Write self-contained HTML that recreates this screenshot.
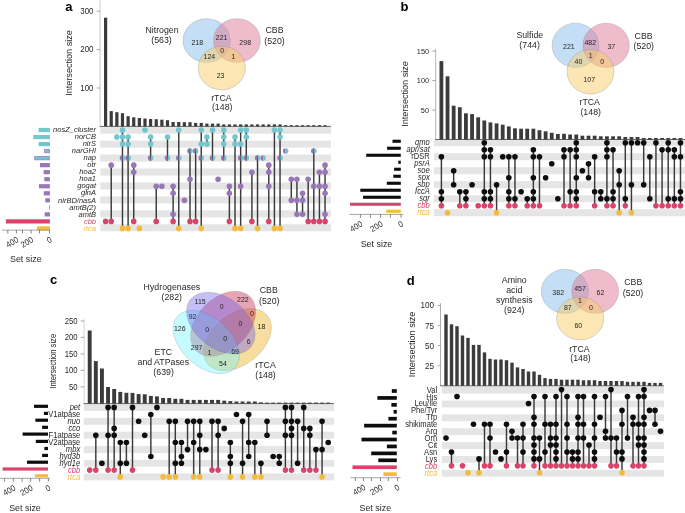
<!DOCTYPE html><html><head><meta charset="utf-8"><style>html,body{margin:0;padding:0;background:#fff;}svg{display:block;will-change:transform;}</style></head><body><svg width="685" height="513" viewBox="0 0 685 513" font-family='"Liberation Sans", sans-serif'>
<rect width="685" height="513" fill="#ffffff"/>
<rect x="100.30" y="126.68" width="230.70" height="7.03" fill="#e5e5e5"/>
<rect x="100.30" y="140.62" width="230.70" height="7.03" fill="#e5e5e5"/>
<rect x="100.30" y="154.56" width="230.70" height="7.03" fill="#e5e5e5"/>
<rect x="100.30" y="168.50" width="230.70" height="7.03" fill="#e5e5e5"/>
<rect x="100.30" y="182.44" width="230.70" height="7.03" fill="#e5e5e5"/>
<rect x="100.30" y="196.38" width="230.70" height="7.03" fill="#e5e5e5"/>
<rect x="100.30" y="210.32" width="230.70" height="7.03" fill="#e5e5e5"/>
<rect x="100.30" y="224.26" width="230.70" height="7.03" fill="#e5e5e5"/>
<rect x="104.00" y="17.70" width="3.20" height="108.70" fill="#3b3b3b"/>
<rect x="109.63" y="111.10" width="3.20" height="15.30" fill="#3b3b3b"/>
<rect x="115.25" y="112.20" width="3.20" height="14.20" fill="#3b3b3b"/>
<rect x="120.88" y="113.20" width="3.20" height="13.20" fill="#3b3b3b"/>
<rect x="126.51" y="116.20" width="3.20" height="10.20" fill="#3b3b3b"/>
<rect x="132.13" y="117.30" width="3.20" height="9.10" fill="#3b3b3b"/>
<rect x="137.76" y="118.00" width="3.20" height="8.40" fill="#3b3b3b"/>
<rect x="143.39" y="118.50" width="3.20" height="7.90" fill="#3b3b3b"/>
<rect x="149.02" y="119.00" width="3.20" height="7.40" fill="#3b3b3b"/>
<rect x="154.64" y="119.20" width="3.20" height="7.20" fill="#3b3b3b"/>
<rect x="160.27" y="119.70" width="3.20" height="6.70" fill="#3b3b3b"/>
<rect x="165.90" y="120.20" width="3.20" height="6.20" fill="#3b3b3b"/>
<rect x="171.52" y="122.00" width="3.20" height="4.40" fill="#3b3b3b"/>
<rect x="177.15" y="122.00" width="3.20" height="4.40" fill="#3b3b3b"/>
<rect x="182.78" y="122.20" width="3.20" height="4.20" fill="#3b3b3b"/>
<rect x="188.41" y="122.20" width="3.20" height="4.20" fill="#3b3b3b"/>
<rect x="194.03" y="122.90" width="3.20" height="3.50" fill="#3b3b3b"/>
<rect x="199.66" y="122.90" width="3.20" height="3.50" fill="#3b3b3b"/>
<rect x="205.29" y="123.60" width="3.20" height="2.80" fill="#3b3b3b"/>
<rect x="210.91" y="123.60" width="3.20" height="2.80" fill="#3b3b3b"/>
<rect x="216.54" y="123.60" width="3.20" height="2.80" fill="#3b3b3b"/>
<rect x="222.17" y="124.40" width="3.20" height="2.00" fill="#3b3b3b"/>
<rect x="227.79" y="124.40" width="3.20" height="2.00" fill="#3b3b3b"/>
<rect x="233.42" y="124.40" width="3.20" height="2.00" fill="#3b3b3b"/>
<rect x="239.05" y="124.40" width="3.20" height="2.00" fill="#3b3b3b"/>
<rect x="244.67" y="124.40" width="3.20" height="2.00" fill="#3b3b3b"/>
<rect x="250.30" y="124.40" width="3.20" height="2.00" fill="#3b3b3b"/>
<rect x="255.93" y="124.40" width="3.20" height="2.00" fill="#3b3b3b"/>
<rect x="261.56" y="124.40" width="3.20" height="2.00" fill="#3b3b3b"/>
<rect x="267.18" y="124.40" width="3.20" height="2.00" fill="#3b3b3b"/>
<rect x="272.81" y="124.40" width="3.20" height="2.00" fill="#3b3b3b"/>
<rect x="278.44" y="124.40" width="3.20" height="2.00" fill="#3b3b3b"/>
<rect x="284.06" y="125.20" width="3.20" height="1.20" fill="#3b3b3b"/>
<rect x="289.69" y="125.20" width="3.20" height="1.20" fill="#3b3b3b"/>
<rect x="295.32" y="125.20" width="3.20" height="1.20" fill="#3b3b3b"/>
<rect x="300.94" y="125.20" width="3.20" height="1.20" fill="#3b3b3b"/>
<rect x="306.57" y="125.20" width="3.20" height="1.20" fill="#3b3b3b"/>
<rect x="312.20" y="125.20" width="3.20" height="1.20" fill="#3b3b3b"/>
<rect x="317.83" y="125.20" width="3.20" height="1.20" fill="#3b3b3b"/>
<rect x="323.45" y="125.20" width="3.20" height="1.20" fill="#3b3b3b"/>
<line x1="100.10" y1="0.50" x2="100.10" y2="126.40" stroke="#b4b4b4" stroke-width="0.7"/>
<line x1="99.75" y1="126.40" x2="331.00" y2="126.40" stroke="#3a3a3a" stroke-width="0.75"/>
<line x1="96.70" y1="11.20" x2="100.10" y2="11.20" stroke="#808080" stroke-width="0.7"/>
<text transform="translate(93.50 14.04) scale(1 1.08)" font-size="7.9" text-anchor="end" fill="#231f20">300</text>
<line x1="96.70" y1="49.60" x2="100.10" y2="49.60" stroke="#808080" stroke-width="0.7"/>
<text transform="translate(93.50 52.44) scale(1 1.08)" font-size="7.9" text-anchor="end" fill="#231f20">200</text>
<line x1="96.70" y1="88.00" x2="100.10" y2="88.00" stroke="#808080" stroke-width="0.7"/>
<text transform="translate(93.50 90.84) scale(1 1.08)" font-size="7.9" text-anchor="end" fill="#231f20">100</text>
<text transform="translate(71.60 63.00) rotate(-90) scale(1 1.08)" font-size="9.1" text-anchor="middle" fill="#231f20">Intersection size</text>
<circle cx="105.60" cy="221.39" r="2.8" fill="#d8446c"/>
<line x1="111.23" y1="165.15" x2="111.23" y2="221.39" stroke="#3a3a3a" stroke-width="1.45"/>
<circle cx="111.23" cy="165.15" r="2.8" fill="#9877b6"/>
<circle cx="111.23" cy="221.39" r="2.8" fill="#d8446c"/>
<circle cx="116.85" cy="137.03" r="2.8" fill="#72c6ce"/>
<line x1="122.48" y1="130.00" x2="122.48" y2="228.42" stroke="#3a3a3a" stroke-width="1.45"/>
<circle cx="122.48" cy="130.00" r="2.8" fill="#72c6ce"/>
<circle cx="122.48" cy="137.03" r="2.8" fill="#72c6ce"/>
<circle cx="122.48" cy="144.06" r="2.8" fill="#72c6ce"/>
<path d="M122.48,155.32 A2.8,2.8 0 0 0 122.48,160.92 Z" fill="#9877b6"/>
<path d="M122.48,155.32 A2.8,2.8 0 0 1 122.48,160.92 Z" fill="#72c6ce"/>
<line x1="122.48" y1="155.32" x2="122.48" y2="160.92" stroke="#3a3a3a" stroke-width="0.6"/>
<circle cx="122.48" cy="228.42" r="2.8" fill="#f3bb3b"/>
<line x1="128.11" y1="137.03" x2="128.11" y2="228.42" stroke="#3a3a3a" stroke-width="1.45"/>
<circle cx="128.11" cy="137.03" r="2.8" fill="#72c6ce"/>
<circle cx="128.11" cy="144.06" r="2.8" fill="#72c6ce"/>
<path d="M128.11,155.32 A2.8,2.8 0 0 0 128.11,160.92 Z" fill="#9877b6"/>
<path d="M128.11,155.32 A2.8,2.8 0 0 1 128.11,160.92 Z" fill="#72c6ce"/>
<line x1="128.11" y1="155.32" x2="128.11" y2="160.92" stroke="#3a3a3a" stroke-width="0.6"/>
<circle cx="128.11" cy="228.42" r="2.8" fill="#f3bb3b"/>
<line x1="133.73" y1="165.15" x2="133.73" y2="221.39" stroke="#3a3a3a" stroke-width="1.45"/>
<circle cx="133.73" cy="165.15" r="2.8" fill="#9877b6"/>
<circle cx="133.73" cy="172.18" r="2.8" fill="#9877b6"/>
<circle cx="133.73" cy="221.39" r="2.8" fill="#d8446c"/>
<circle cx="139.36" cy="228.42" r="2.8" fill="#f3bb3b"/>
<circle cx="144.99" cy="130.00" r="2.8" fill="#72c6ce"/>
<line x1="150.62" y1="137.03" x2="150.62" y2="158.12" stroke="#3a3a3a" stroke-width="1.45"/>
<circle cx="150.62" cy="137.03" r="2.8" fill="#72c6ce"/>
<circle cx="150.62" cy="144.06" r="2.8" fill="#72c6ce"/>
<path d="M150.62,155.32 A2.8,2.8 0 0 0 150.62,160.92 Z" fill="#9877b6"/>
<path d="M150.62,155.32 A2.8,2.8 0 0 1 150.62,160.92 Z" fill="#72c6ce"/>
<line x1="150.62" y1="155.32" x2="150.62" y2="160.92" stroke="#3a3a3a" stroke-width="0.6"/>
<line x1="156.24" y1="186.24" x2="156.24" y2="221.39" stroke="#3a3a3a" stroke-width="1.45"/>
<circle cx="156.24" cy="186.24" r="2.8" fill="#9877b6"/>
<circle cx="156.24" cy="221.39" r="2.8" fill="#d8446c"/>
<circle cx="161.87" cy="186.24" r="2.8" fill="#9877b6"/>
<line x1="167.50" y1="137.03" x2="167.50" y2="158.12" stroke="#3a3a3a" stroke-width="1.45"/>
<circle cx="167.50" cy="137.03" r="2.8" fill="#72c6ce"/>
<path d="M167.50,155.32 A2.8,2.8 0 0 0 167.50,160.92 Z" fill="#9877b6"/>
<path d="M167.50,155.32 A2.8,2.8 0 0 1 167.50,160.92 Z" fill="#72c6ce"/>
<line x1="167.50" y1="155.32" x2="167.50" y2="160.92" stroke="#3a3a3a" stroke-width="0.6"/>
<line x1="173.12" y1="186.24" x2="173.12" y2="221.39" stroke="#3a3a3a" stroke-width="1.45"/>
<circle cx="173.12" cy="186.24" r="2.8" fill="#9877b6"/>
<circle cx="173.12" cy="193.27" r="2.8" fill="#9877b6"/>
<circle cx="173.12" cy="214.36" r="2.8" fill="#9877b6"/>
<circle cx="173.12" cy="221.39" r="2.8" fill="#d8446c"/>
<line x1="178.75" y1="130.00" x2="178.75" y2="228.42" stroke="#3a3a3a" stroke-width="1.45"/>
<circle cx="178.75" cy="130.00" r="2.8" fill="#72c6ce"/>
<path d="M178.75,155.32 A2.8,2.8 0 0 0 178.75,160.92 Z" fill="#9877b6"/>
<path d="M178.75,155.32 A2.8,2.8 0 0 1 178.75,160.92 Z" fill="#72c6ce"/>
<line x1="178.75" y1="155.32" x2="178.75" y2="160.92" stroke="#3a3a3a" stroke-width="0.6"/>
<circle cx="178.75" cy="228.42" r="2.8" fill="#f3bb3b"/>
<circle cx="184.38" cy="200.30" r="2.8" fill="#9877b6"/>
<line x1="190.00" y1="151.09" x2="190.00" y2="221.39" stroke="#3a3a3a" stroke-width="1.45"/>
<path d="M190.00,148.29 A2.8,2.8 0 0 0 190.00,153.89 Z" fill="#9877b6"/>
<path d="M190.00,148.29 A2.8,2.8 0 0 1 190.00,153.89 Z" fill="#72c6ce"/>
<line x1="190.00" y1="148.29" x2="190.00" y2="153.89" stroke="#3a3a3a" stroke-width="0.6"/>
<circle cx="190.00" cy="179.21" r="2.8" fill="#9877b6"/>
<circle cx="190.00" cy="221.39" r="2.8" fill="#d8446c"/>
<line x1="195.63" y1="151.09" x2="195.63" y2="221.39" stroke="#3a3a3a" stroke-width="1.45"/>
<path d="M195.63,148.29 A2.8,2.8 0 0 0 195.63,153.89 Z" fill="#9877b6"/>
<path d="M195.63,148.29 A2.8,2.8 0 0 1 195.63,153.89 Z" fill="#72c6ce"/>
<line x1="195.63" y1="148.29" x2="195.63" y2="153.89" stroke="#3a3a3a" stroke-width="0.6"/>
<circle cx="195.63" cy="221.39" r="2.8" fill="#d8446c"/>
<line x1="201.26" y1="130.00" x2="201.26" y2="228.42" stroke="#3a3a3a" stroke-width="1.45"/>
<circle cx="201.26" cy="130.00" r="2.8" fill="#72c6ce"/>
<circle cx="201.26" cy="144.06" r="2.8" fill="#72c6ce"/>
<path d="M201.26,155.32 A2.8,2.8 0 0 0 201.26,160.92 Z" fill="#9877b6"/>
<path d="M201.26,155.32 A2.8,2.8 0 0 1 201.26,160.92 Z" fill="#72c6ce"/>
<line x1="201.26" y1="155.32" x2="201.26" y2="160.92" stroke="#3a3a3a" stroke-width="0.6"/>
<circle cx="201.26" cy="228.42" r="2.8" fill="#f3bb3b"/>
<line x1="206.89" y1="137.03" x2="206.89" y2="144.06" stroke="#3a3a3a" stroke-width="1.45"/>
<circle cx="206.89" cy="137.03" r="2.8" fill="#72c6ce"/>
<circle cx="206.89" cy="144.06" r="2.8" fill="#72c6ce"/>
<line x1="212.51" y1="130.00" x2="212.51" y2="158.12" stroke="#3a3a3a" stroke-width="1.45"/>
<circle cx="212.51" cy="130.00" r="2.8" fill="#72c6ce"/>
<path d="M212.51,155.32 A2.8,2.8 0 0 0 212.51,160.92 Z" fill="#9877b6"/>
<path d="M212.51,155.32 A2.8,2.8 0 0 1 212.51,160.92 Z" fill="#72c6ce"/>
<line x1="212.51" y1="155.32" x2="212.51" y2="160.92" stroke="#3a3a3a" stroke-width="0.6"/>
<circle cx="218.14" cy="179.21" r="2.8" fill="#9877b6"/>
<line x1="223.77" y1="130.00" x2="223.77" y2="158.12" stroke="#3a3a3a" stroke-width="1.45"/>
<circle cx="223.77" cy="130.00" r="2.8" fill="#72c6ce"/>
<circle cx="223.77" cy="137.03" r="2.8" fill="#72c6ce"/>
<circle cx="223.77" cy="144.06" r="2.8" fill="#72c6ce"/>
<path d="M223.77,155.32 A2.8,2.8 0 0 0 223.77,160.92 Z" fill="#9877b6"/>
<path d="M223.77,155.32 A2.8,2.8 0 0 1 223.77,160.92 Z" fill="#72c6ce"/>
<line x1="223.77" y1="155.32" x2="223.77" y2="160.92" stroke="#3a3a3a" stroke-width="0.6"/>
<line x1="229.39" y1="186.24" x2="229.39" y2="221.39" stroke="#3a3a3a" stroke-width="1.45"/>
<circle cx="229.39" cy="186.24" r="2.8" fill="#9877b6"/>
<circle cx="229.39" cy="193.27" r="2.8" fill="#9877b6"/>
<circle cx="229.39" cy="221.39" r="2.8" fill="#d8446c"/>
<line x1="235.02" y1="137.03" x2="235.02" y2="228.42" stroke="#3a3a3a" stroke-width="1.45"/>
<circle cx="235.02" cy="137.03" r="2.8" fill="#72c6ce"/>
<circle cx="235.02" cy="144.06" r="2.8" fill="#72c6ce"/>
<circle cx="235.02" cy="228.42" r="2.8" fill="#f3bb3b"/>
<line x1="240.65" y1="130.00" x2="240.65" y2="228.42" stroke="#3a3a3a" stroke-width="1.45"/>
<circle cx="240.65" cy="130.00" r="2.8" fill="#72c6ce"/>
<circle cx="240.65" cy="144.06" r="2.8" fill="#72c6ce"/>
<path d="M240.65,155.32 A2.8,2.8 0 0 0 240.65,160.92 Z" fill="#9877b6"/>
<path d="M240.65,155.32 A2.8,2.8 0 0 1 240.65,160.92 Z" fill="#72c6ce"/>
<line x1="240.65" y1="155.32" x2="240.65" y2="160.92" stroke="#3a3a3a" stroke-width="0.6"/>
<circle cx="240.65" cy="186.24" r="2.8" fill="#9877b6"/>
<circle cx="240.65" cy="228.42" r="2.8" fill="#f3bb3b"/>
<line x1="246.27" y1="130.00" x2="246.27" y2="158.12" stroke="#3a3a3a" stroke-width="1.45"/>
<circle cx="246.27" cy="130.00" r="2.8" fill="#72c6ce"/>
<circle cx="246.27" cy="137.03" r="2.8" fill="#72c6ce"/>
<path d="M246.27,155.32 A2.8,2.8 0 0 0 246.27,160.92 Z" fill="#9877b6"/>
<path d="M246.27,155.32 A2.8,2.8 0 0 1 246.27,160.92 Z" fill="#72c6ce"/>
<line x1="246.27" y1="155.32" x2="246.27" y2="160.92" stroke="#3a3a3a" stroke-width="0.6"/>
<line x1="251.90" y1="172.18" x2="251.90" y2="221.39" stroke="#3a3a3a" stroke-width="1.45"/>
<circle cx="251.90" cy="172.18" r="2.8" fill="#9877b6"/>
<circle cx="251.90" cy="221.39" r="2.8" fill="#d8446c"/>
<line x1="257.53" y1="158.12" x2="257.53" y2="228.42" stroke="#3a3a3a" stroke-width="1.45"/>
<path d="M257.53,155.32 A2.8,2.8 0 0 0 257.53,160.92 Z" fill="#9877b6"/>
<path d="M257.53,155.32 A2.8,2.8 0 0 1 257.53,160.92 Z" fill="#72c6ce"/>
<line x1="257.53" y1="155.32" x2="257.53" y2="160.92" stroke="#3a3a3a" stroke-width="0.6"/>
<circle cx="257.53" cy="228.42" r="2.8" fill="#f3bb3b"/>
<path d="M263.16,155.32 A2.8,2.8 0 0 0 263.16,160.92 Z" fill="#9877b6"/>
<path d="M263.16,155.32 A2.8,2.8 0 0 1 263.16,160.92 Z" fill="#72c6ce"/>
<line x1="268.78" y1="165.15" x2="268.78" y2="221.39" stroke="#3a3a3a" stroke-width="1.45"/>
<circle cx="268.78" cy="165.15" r="2.8" fill="#9877b6"/>
<circle cx="268.78" cy="172.18" r="2.8" fill="#9877b6"/>
<circle cx="268.78" cy="186.24" r="2.8" fill="#9877b6"/>
<circle cx="268.78" cy="221.39" r="2.8" fill="#d8446c"/>
<line x1="274.41" y1="130.00" x2="274.41" y2="228.42" stroke="#3a3a3a" stroke-width="1.45"/>
<circle cx="274.41" cy="130.00" r="2.8" fill="#72c6ce"/>
<circle cx="274.41" cy="228.42" r="2.8" fill="#f3bb3b"/>
<line x1="280.04" y1="130.00" x2="280.04" y2="228.42" stroke="#3a3a3a" stroke-width="1.45"/>
<circle cx="280.04" cy="130.00" r="2.8" fill="#72c6ce"/>
<circle cx="280.04" cy="137.03" r="2.8" fill="#72c6ce"/>
<path d="M280.04,155.32 A2.8,2.8 0 0 0 280.04,160.92 Z" fill="#9877b6"/>
<path d="M280.04,155.32 A2.8,2.8 0 0 1 280.04,160.92 Z" fill="#72c6ce"/>
<line x1="280.04" y1="155.32" x2="280.04" y2="160.92" stroke="#3a3a3a" stroke-width="0.6"/>
<circle cx="280.04" cy="228.42" r="2.8" fill="#f3bb3b"/>
<path d="M285.66,148.29 A2.8,2.8 0 0 0 285.66,153.89 Z" fill="#9877b6"/>
<path d="M285.66,148.29 A2.8,2.8 0 0 1 285.66,153.89 Z" fill="#72c6ce"/>
<line x1="291.29" y1="179.21" x2="291.29" y2="200.30" stroke="#3a3a3a" stroke-width="1.45"/>
<circle cx="291.29" cy="179.21" r="2.8" fill="#9877b6"/>
<circle cx="291.29" cy="200.30" r="2.8" fill="#9877b6"/>
<line x1="296.92" y1="179.21" x2="296.92" y2="214.36" stroke="#3a3a3a" stroke-width="1.45"/>
<circle cx="296.92" cy="179.21" r="2.8" fill="#9877b6"/>
<circle cx="296.92" cy="200.30" r="2.8" fill="#9877b6"/>
<circle cx="296.92" cy="214.36" r="2.8" fill="#9877b6"/>
<line x1="302.54" y1="193.27" x2="302.54" y2="214.36" stroke="#3a3a3a" stroke-width="1.45"/>
<circle cx="302.54" cy="193.27" r="2.8" fill="#9877b6"/>
<circle cx="302.54" cy="200.30" r="2.8" fill="#9877b6"/>
<circle cx="302.54" cy="214.36" r="2.8" fill="#9877b6"/>
<line x1="308.17" y1="179.21" x2="308.17" y2="221.39" stroke="#3a3a3a" stroke-width="1.45"/>
<circle cx="308.17" cy="179.21" r="2.8" fill="#9877b6"/>
<circle cx="308.17" cy="221.39" r="2.8" fill="#d8446c"/>
<line x1="313.80" y1="151.09" x2="313.80" y2="221.39" stroke="#3a3a3a" stroke-width="1.45"/>
<path d="M313.80,148.29 A2.8,2.8 0 0 0 313.80,153.89 Z" fill="#9877b6"/>
<path d="M313.80,148.29 A2.8,2.8 0 0 1 313.80,153.89 Z" fill="#72c6ce"/>
<line x1="313.80" y1="148.29" x2="313.80" y2="153.89" stroke="#3a3a3a" stroke-width="0.6"/>
<circle cx="313.80" cy="186.24" r="2.8" fill="#9877b6"/>
<circle cx="313.80" cy="221.39" r="2.8" fill="#d8446c"/>
<line x1="319.43" y1="172.18" x2="319.43" y2="221.39" stroke="#3a3a3a" stroke-width="1.45"/>
<circle cx="319.43" cy="172.18" r="2.8" fill="#9877b6"/>
<circle cx="319.43" cy="186.24" r="2.8" fill="#9877b6"/>
<circle cx="319.43" cy="221.39" r="2.8" fill="#d8446c"/>
<line x1="325.05" y1="165.15" x2="325.05" y2="221.39" stroke="#3a3a3a" stroke-width="1.45"/>
<circle cx="325.05" cy="165.15" r="2.8" fill="#9877b6"/>
<circle cx="325.05" cy="172.18" r="2.8" fill="#9877b6"/>
<circle cx="325.05" cy="186.24" r="2.8" fill="#9877b6"/>
<circle cx="325.05" cy="193.27" r="2.8" fill="#9877b6"/>
<circle cx="325.05" cy="214.36" r="2.8" fill="#9877b6"/>
<circle cx="325.05" cy="221.39" r="2.8" fill="#d8446c"/>
<text transform="translate(96.00 132.20) scale(1 1.08)" font-size="7.5" text-anchor="end" fill="#231f20" font-style="italic">nosZ_cluster</text>
<text transform="translate(96.00 139.23) scale(1 1.08)" font-size="7.5" text-anchor="end" fill="#231f20" font-style="italic">norCB</text>
<text transform="translate(96.00 146.26) scale(1 1.08)" font-size="7.5" text-anchor="end" fill="#231f20" font-style="italic">nirS</text>
<text transform="translate(96.00 153.29) scale(1 1.08)" font-size="7.5" text-anchor="end" fill="#231f20" font-style="italic">narGHI</text>
<text transform="translate(96.00 160.32) scale(1 1.08)" font-size="7.5" text-anchor="end" fill="#231f20" font-style="italic">nap</text>
<text transform="translate(96.00 167.35) scale(1 1.08)" font-size="7.5" text-anchor="end" fill="#231f20" font-style="italic">otr</text>
<text transform="translate(96.00 174.38) scale(1 1.08)" font-size="7.5" text-anchor="end" fill="#231f20" font-style="italic">hoa2</text>
<text transform="translate(96.00 181.41) scale(1 1.08)" font-size="7.5" text-anchor="end" fill="#231f20" font-style="italic">hoa1</text>
<text transform="translate(96.00 188.44) scale(1 1.08)" font-size="7.5" text-anchor="end" fill="#231f20" font-style="italic">gogat</text>
<text transform="translate(96.00 195.47) scale(1 1.08)" font-size="7.5" text-anchor="end" fill="#231f20" font-style="italic">glnA</text>
<text transform="translate(96.00 202.50) scale(1 1.08)" font-size="7.5" text-anchor="end" fill="#231f20" font-style="italic">nirBD/nasA</text>
<text transform="translate(96.00 209.53) scale(1 1.08)" font-size="7.5" text-anchor="end" fill="#231f20" font-style="italic">amtB(2)</text>
<text transform="translate(96.00 216.56) scale(1 1.08)" font-size="7.5" text-anchor="end" fill="#231f20" font-style="italic">amtB</text>
<text transform="translate(96.00 223.59) scale(1 1.08)" font-size="7.5" text-anchor="end" fill="#d8446c" font-style="italic">cbb</text>
<text transform="translate(96.00 230.62) scale(1 1.08)" font-size="7.5" text-anchor="end" fill="#f3bb3b" font-style="italic">rtca</text>
<rect x="38.60" y="127.90" width="11.30" height="4.20" fill="#72c6ce"/>
<rect x="33.30" y="134.93" width="16.60" height="4.20" fill="#72c6ce"/>
<rect x="38.60" y="141.96" width="11.30" height="4.20" fill="#72c6ce"/>
<rect x="44.65" y="149.34" width="4.90" height="3.50" fill="#72c6ce" stroke="#9877b6" stroke-width="0.7"/>
<rect x="34.75" y="156.37" width="14.80" height="3.50" fill="#72c6ce" stroke="#9877b6" stroke-width="0.7"/>
<rect x="40.00" y="163.05" width="9.90" height="4.20" fill="#9877b6"/>
<rect x="43.60" y="170.08" width="6.30" height="4.20" fill="#9877b6"/>
<rect x="44.30" y="177.11" width="5.60" height="4.20" fill="#9877b6"/>
<rect x="39.00" y="184.14" width="10.90" height="4.20" fill="#9877b6"/>
<rect x="43.80" y="191.17" width="6.10" height="4.20" fill="#9877b6"/>
<rect x="45.30" y="198.20" width="4.60" height="4.20" fill="#9877b6"/>
<rect x="49.10" y="205.23" width="0.80" height="4.20" fill="#9877b6"/>
<rect x="44.70" y="212.26" width="5.20" height="4.20" fill="#9877b6"/>
<rect x="5.90" y="219.29" width="44.00" height="4.20" fill="#d8446c"/>
<rect x="36.90" y="226.32" width="13.00" height="4.20" fill="#f3bb3b"/>
<line x1="2.00" y1="230.10" x2="49.90" y2="230.10" stroke="#8f8f8f" stroke-width="0.8"/>
<line x1="7.80" y1="230.10" x2="7.80" y2="233.50" stroke="#555" stroke-width="0.7"/>
<line x1="16.40" y1="230.10" x2="16.40" y2="233.50" stroke="#555" stroke-width="0.7"/>
<line x1="22.50" y1="230.10" x2="22.50" y2="233.50" stroke="#555" stroke-width="0.7"/>
<line x1="31.10" y1="230.10" x2="31.10" y2="233.50" stroke="#555" stroke-width="0.7"/>
<line x1="39.50" y1="230.10" x2="39.50" y2="233.50" stroke="#555" stroke-width="0.7"/>
<line x1="49.50" y1="230.10" x2="49.50" y2="233.50" stroke="#555" stroke-width="0.7"/>
<text transform="translate(19.30 241.40) rotate(-30) scale(1 1.08)" font-size="7.8" text-anchor="end" fill="#231f20">400</text>
<text transform="translate(34.00 241.40) rotate(-30) scale(1 1.08)" font-size="7.8" text-anchor="end" fill="#231f20">200</text>
<text transform="translate(52.40 241.40) rotate(-30) scale(1 1.08)" font-size="7.8" text-anchor="end" fill="#231f20">0</text>
<text transform="translate(25.80 262.30) scale(1 1.08)" font-size="8.9" text-anchor="middle" fill="#231f20">Set size</text>
<text transform="translate(65.20 10.60)" font-size="13" text-anchor="start" fill="#000" font-weight="bold">a</text>
<rect x="434.00" y="139.20" width="251.00" height="7.00" fill="#e5e5e5"/>
<rect x="434.00" y="153.20" width="251.00" height="7.00" fill="#e5e5e5"/>
<rect x="434.00" y="167.20" width="251.00" height="7.00" fill="#e5e5e5"/>
<rect x="434.00" y="181.20" width="251.00" height="7.00" fill="#e5e5e5"/>
<rect x="434.00" y="195.20" width="251.00" height="7.00" fill="#e5e5e5"/>
<rect x="434.00" y="209.20" width="251.00" height="7.00" fill="#e5e5e5"/>
<rect x="439.50" y="61.10" width="3.80" height="78.40" fill="#3b3b3b"/>
<rect x="445.63" y="76.30" width="3.80" height="63.20" fill="#3b3b3b"/>
<rect x="451.76" y="105.70" width="3.80" height="33.80" fill="#3b3b3b"/>
<rect x="457.89" y="107.20" width="3.80" height="32.30" fill="#3b3b3b"/>
<rect x="464.02" y="113.30" width="3.80" height="26.20" fill="#3b3b3b"/>
<rect x="470.15" y="114.10" width="3.80" height="25.40" fill="#3b3b3b"/>
<rect x="476.28" y="117.30" width="3.80" height="22.20" fill="#3b3b3b"/>
<rect x="482.41" y="120.50" width="3.80" height="19.00" fill="#3b3b3b"/>
<rect x="488.54" y="122.40" width="3.80" height="17.10" fill="#3b3b3b"/>
<rect x="494.67" y="123.40" width="3.80" height="16.10" fill="#3b3b3b"/>
<rect x="500.80" y="124.70" width="3.80" height="14.80" fill="#3b3b3b"/>
<rect x="506.93" y="126.40" width="3.80" height="13.10" fill="#3b3b3b"/>
<rect x="513.06" y="128.30" width="3.80" height="11.20" fill="#3b3b3b"/>
<rect x="519.19" y="128.70" width="3.80" height="10.80" fill="#3b3b3b"/>
<rect x="525.32" y="128.70" width="3.80" height="10.80" fill="#3b3b3b"/>
<rect x="531.45" y="128.70" width="3.80" height="10.80" fill="#3b3b3b"/>
<rect x="537.58" y="130.20" width="3.80" height="9.30" fill="#3b3b3b"/>
<rect x="543.71" y="131.30" width="3.80" height="8.20" fill="#3b3b3b"/>
<rect x="549.84" y="132.80" width="3.80" height="6.70" fill="#3b3b3b"/>
<rect x="555.97" y="134.00" width="3.80" height="5.50" fill="#3b3b3b"/>
<rect x="562.10" y="133.80" width="3.80" height="5.70" fill="#3b3b3b"/>
<rect x="568.23" y="134.50" width="3.80" height="5.00" fill="#3b3b3b"/>
<rect x="574.36" y="134.50" width="3.80" height="5.00" fill="#3b3b3b"/>
<rect x="580.49" y="135.70" width="3.80" height="3.80" fill="#3b3b3b"/>
<rect x="586.62" y="135.70" width="3.80" height="3.80" fill="#3b3b3b"/>
<rect x="592.75" y="135.70" width="3.80" height="3.80" fill="#3b3b3b"/>
<rect x="598.88" y="136.30" width="3.80" height="3.20" fill="#3b3b3b"/>
<rect x="605.01" y="136.30" width="3.80" height="3.20" fill="#3b3b3b"/>
<rect x="611.14" y="136.30" width="3.80" height="3.20" fill="#3b3b3b"/>
<rect x="617.27" y="136.30" width="3.80" height="3.20" fill="#3b3b3b"/>
<rect x="623.40" y="137.00" width="3.80" height="2.50" fill="#3b3b3b"/>
<rect x="629.53" y="137.00" width="3.80" height="2.50" fill="#3b3b3b"/>
<rect x="635.66" y="137.00" width="3.80" height="2.50" fill="#3b3b3b"/>
<rect x="641.79" y="138.00" width="3.80" height="1.50" fill="#3b3b3b"/>
<rect x="647.92" y="138.00" width="3.80" height="1.50" fill="#3b3b3b"/>
<rect x="654.05" y="138.00" width="3.80" height="1.50" fill="#3b3b3b"/>
<rect x="660.18" y="138.00" width="3.80" height="1.50" fill="#3b3b3b"/>
<rect x="666.31" y="138.00" width="3.80" height="1.50" fill="#3b3b3b"/>
<rect x="672.44" y="138.00" width="3.80" height="1.50" fill="#3b3b3b"/>
<rect x="678.57" y="138.00" width="3.80" height="1.50" fill="#3b3b3b"/>
<line x1="435.70" y1="48.60" x2="435.70" y2="139.50" stroke="#9a9a9a" stroke-width="0.7"/>
<line x1="435.35" y1="139.50" x2="685.00" y2="139.50" stroke="#3a3a3a" stroke-width="0.75"/>
<line x1="432.30" y1="51.10" x2="435.70" y2="51.10" stroke="#808080" stroke-width="0.7"/>
<text transform="translate(429.10 53.76) scale(1 1.08)" font-size="7.4" text-anchor="end" fill="#231f20">150</text>
<line x1="432.30" y1="80.60" x2="435.70" y2="80.60" stroke="#808080" stroke-width="0.7"/>
<text transform="translate(429.10 83.26) scale(1 1.08)" font-size="7.4" text-anchor="end" fill="#231f20">100</text>
<line x1="432.30" y1="110.10" x2="435.70" y2="110.10" stroke="#808080" stroke-width="0.7"/>
<text transform="translate(429.10 112.76) scale(1 1.08)" font-size="7.4" text-anchor="end" fill="#231f20">50</text>
<text transform="translate(408.30 94.00) rotate(-90) scale(1 1.08)" font-size="9.1" text-anchor="middle" fill="#231f20">Intersection size</text>
<line x1="441.40" y1="156.70" x2="441.40" y2="205.70" stroke="#3a3a3a" stroke-width="1.45"/>
<circle cx="441.40" cy="156.70" r="2.8" fill="#0d0d0d"/>
<circle cx="441.40" cy="191.70" r="2.8" fill="#0d0d0d"/>
<circle cx="441.40" cy="198.70" r="2.8" fill="#0d0d0d"/>
<circle cx="441.40" cy="205.70" r="2.8" fill="#d8446c"/>
<circle cx="447.53" cy="212.70" r="2.8" fill="#f3bb3b"/>
<line x1="453.66" y1="170.70" x2="453.66" y2="184.70" stroke="#3a3a3a" stroke-width="1.45"/>
<circle cx="453.66" cy="170.70" r="2.8" fill="#0d0d0d"/>
<circle cx="453.66" cy="184.70" r="2.8" fill="#0d0d0d"/>
<line x1="459.79" y1="191.70" x2="459.79" y2="205.70" stroke="#3a3a3a" stroke-width="1.45"/>
<circle cx="459.79" cy="191.70" r="2.8" fill="#0d0d0d"/>
<circle cx="459.79" cy="205.70" r="2.8" fill="#d8446c"/>
<line x1="465.92" y1="191.70" x2="465.92" y2="205.70" stroke="#3a3a3a" stroke-width="1.45"/>
<circle cx="465.92" cy="191.70" r="2.8" fill="#0d0d0d"/>
<circle cx="465.92" cy="198.70" r="2.8" fill="#0d0d0d"/>
<circle cx="465.92" cy="205.70" r="2.8" fill="#d8446c"/>
<circle cx="472.05" cy="184.70" r="2.8" fill="#0d0d0d"/>
<circle cx="478.18" cy="205.70" r="2.8" fill="#d8446c"/>
<line x1="484.31" y1="142.70" x2="484.31" y2="205.70" stroke="#3a3a3a" stroke-width="1.45"/>
<circle cx="484.31" cy="142.70" r="2.8" fill="#0d0d0d"/>
<circle cx="484.31" cy="149.70" r="2.8" fill="#0d0d0d"/>
<circle cx="484.31" cy="156.70" r="2.8" fill="#0d0d0d"/>
<circle cx="484.31" cy="191.70" r="2.8" fill="#0d0d0d"/>
<circle cx="484.31" cy="198.70" r="2.8" fill="#0d0d0d"/>
<circle cx="484.31" cy="205.70" r="2.8" fill="#d8446c"/>
<line x1="490.44" y1="149.70" x2="490.44" y2="205.70" stroke="#3a3a3a" stroke-width="1.45"/>
<circle cx="490.44" cy="149.70" r="2.8" fill="#0d0d0d"/>
<circle cx="490.44" cy="156.70" r="2.8" fill="#0d0d0d"/>
<circle cx="490.44" cy="191.70" r="2.8" fill="#0d0d0d"/>
<circle cx="490.44" cy="198.70" r="2.8" fill="#0d0d0d"/>
<circle cx="490.44" cy="205.70" r="2.8" fill="#d8446c"/>
<line x1="496.57" y1="184.70" x2="496.57" y2="212.70" stroke="#3a3a3a" stroke-width="1.45"/>
<circle cx="496.57" cy="184.70" r="2.8" fill="#0d0d0d"/>
<circle cx="496.57" cy="212.70" r="2.8" fill="#f3bb3b"/>
<circle cx="502.70" cy="156.70" r="2.8" fill="#0d0d0d"/>
<line x1="508.83" y1="156.70" x2="508.83" y2="205.70" stroke="#3a3a3a" stroke-width="1.45"/>
<circle cx="508.83" cy="156.70" r="2.8" fill="#0d0d0d"/>
<circle cx="508.83" cy="177.70" r="2.8" fill="#0d0d0d"/>
<circle cx="508.83" cy="191.70" r="2.8" fill="#0d0d0d"/>
<circle cx="508.83" cy="198.70" r="2.8" fill="#0d0d0d"/>
<circle cx="508.83" cy="205.70" r="2.8" fill="#d8446c"/>
<line x1="514.96" y1="156.70" x2="514.96" y2="205.70" stroke="#3a3a3a" stroke-width="1.45"/>
<circle cx="514.96" cy="156.70" r="2.8" fill="#0d0d0d"/>
<circle cx="514.96" cy="198.70" r="2.8" fill="#0d0d0d"/>
<circle cx="514.96" cy="205.70" r="2.8" fill="#d8446c"/>
<circle cx="521.09" cy="191.70" r="2.8" fill="#0d0d0d"/>
<line x1="527.22" y1="198.70" x2="527.22" y2="205.70" stroke="#3a3a3a" stroke-width="1.45"/>
<circle cx="527.22" cy="198.70" r="2.8" fill="#0d0d0d"/>
<circle cx="527.22" cy="205.70" r="2.8" fill="#d8446c"/>
<line x1="533.35" y1="149.70" x2="533.35" y2="205.70" stroke="#3a3a3a" stroke-width="1.45"/>
<circle cx="533.35" cy="149.70" r="2.8" fill="#0d0d0d"/>
<circle cx="533.35" cy="156.70" r="2.8" fill="#0d0d0d"/>
<circle cx="533.35" cy="177.70" r="2.8" fill="#0d0d0d"/>
<circle cx="533.35" cy="191.70" r="2.8" fill="#0d0d0d"/>
<circle cx="533.35" cy="198.70" r="2.8" fill="#0d0d0d"/>
<circle cx="533.35" cy="205.70" r="2.8" fill="#d8446c"/>
<line x1="539.48" y1="156.70" x2="539.48" y2="205.70" stroke="#3a3a3a" stroke-width="1.45"/>
<circle cx="539.48" cy="156.70" r="2.8" fill="#0d0d0d"/>
<circle cx="539.48" cy="205.70" r="2.8" fill="#d8446c"/>
<circle cx="545.61" cy="177.70" r="2.8" fill="#0d0d0d"/>
<circle cx="551.74" cy="163.70" r="2.8" fill="#0d0d0d"/>
<circle cx="557.87" cy="198.70" r="2.8" fill="#0d0d0d"/>
<line x1="564.00" y1="149.70" x2="564.00" y2="205.70" stroke="#3a3a3a" stroke-width="1.45"/>
<circle cx="564.00" cy="149.70" r="2.8" fill="#0d0d0d"/>
<circle cx="564.00" cy="156.70" r="2.8" fill="#0d0d0d"/>
<circle cx="564.00" cy="205.70" r="2.8" fill="#d8446c"/>
<line x1="570.13" y1="149.70" x2="570.13" y2="205.70" stroke="#3a3a3a" stroke-width="1.45"/>
<circle cx="570.13" cy="149.70" r="2.8" fill="#0d0d0d"/>
<circle cx="570.13" cy="191.70" r="2.8" fill="#0d0d0d"/>
<circle cx="570.13" cy="205.70" r="2.8" fill="#d8446c"/>
<line x1="576.26" y1="142.70" x2="576.26" y2="205.70" stroke="#3a3a3a" stroke-width="1.45"/>
<circle cx="576.26" cy="142.70" r="2.8" fill="#0d0d0d"/>
<circle cx="576.26" cy="149.70" r="2.8" fill="#0d0d0d"/>
<circle cx="576.26" cy="156.70" r="2.8" fill="#0d0d0d"/>
<circle cx="576.26" cy="177.70" r="2.8" fill="#0d0d0d"/>
<circle cx="576.26" cy="191.70" r="2.8" fill="#0d0d0d"/>
<circle cx="576.26" cy="198.70" r="2.8" fill="#0d0d0d"/>
<circle cx="576.26" cy="205.70" r="2.8" fill="#d8446c"/>
<circle cx="582.39" cy="170.70" r="2.8" fill="#0d0d0d"/>
<line x1="588.52" y1="163.70" x2="588.52" y2="177.70" stroke="#3a3a3a" stroke-width="1.45"/>
<circle cx="588.52" cy="163.70" r="2.8" fill="#0d0d0d"/>
<circle cx="588.52" cy="177.70" r="2.8" fill="#0d0d0d"/>
<line x1="594.65" y1="156.70" x2="594.65" y2="205.70" stroke="#3a3a3a" stroke-width="1.45"/>
<circle cx="594.65" cy="156.70" r="2.8" fill="#0d0d0d"/>
<circle cx="594.65" cy="191.70" r="2.8" fill="#0d0d0d"/>
<circle cx="594.65" cy="205.70" r="2.8" fill="#d8446c"/>
<line x1="600.78" y1="191.70" x2="600.78" y2="198.70" stroke="#3a3a3a" stroke-width="1.45"/>
<circle cx="600.78" cy="191.70" r="2.8" fill="#0d0d0d"/>
<circle cx="600.78" cy="198.70" r="2.8" fill="#0d0d0d"/>
<line x1="606.91" y1="142.70" x2="606.91" y2="205.70" stroke="#3a3a3a" stroke-width="1.45"/>
<circle cx="606.91" cy="142.70" r="2.8" fill="#0d0d0d"/>
<circle cx="606.91" cy="149.70" r="2.8" fill="#0d0d0d"/>
<circle cx="606.91" cy="156.70" r="2.8" fill="#0d0d0d"/>
<circle cx="606.91" cy="198.70" r="2.8" fill="#0d0d0d"/>
<circle cx="606.91" cy="205.70" r="2.8" fill="#d8446c"/>
<line x1="613.04" y1="149.70" x2="613.04" y2="205.70" stroke="#3a3a3a" stroke-width="1.45"/>
<circle cx="613.04" cy="149.70" r="2.8" fill="#0d0d0d"/>
<circle cx="613.04" cy="191.70" r="2.8" fill="#0d0d0d"/>
<circle cx="613.04" cy="198.70" r="2.8" fill="#0d0d0d"/>
<circle cx="613.04" cy="205.70" r="2.8" fill="#d8446c"/>
<line x1="619.17" y1="170.70" x2="619.17" y2="212.70" stroke="#3a3a3a" stroke-width="1.45"/>
<circle cx="619.17" cy="170.70" r="2.8" fill="#0d0d0d"/>
<circle cx="619.17" cy="184.70" r="2.8" fill="#0d0d0d"/>
<circle cx="619.17" cy="212.70" r="2.8" fill="#f3bb3b"/>
<line x1="625.30" y1="142.70" x2="625.30" y2="205.70" stroke="#3a3a3a" stroke-width="1.45"/>
<circle cx="625.30" cy="142.70" r="2.8" fill="#0d0d0d"/>
<circle cx="625.30" cy="198.70" r="2.8" fill="#0d0d0d"/>
<circle cx="625.30" cy="205.70" r="2.8" fill="#d8446c"/>
<line x1="631.43" y1="142.70" x2="631.43" y2="212.70" stroke="#3a3a3a" stroke-width="1.45"/>
<circle cx="631.43" cy="142.70" r="2.8" fill="#0d0d0d"/>
<circle cx="631.43" cy="184.70" r="2.8" fill="#0d0d0d"/>
<circle cx="631.43" cy="212.70" r="2.8" fill="#f3bb3b"/>
<circle cx="637.56" cy="142.70" r="2.8" fill="#0d0d0d"/>
<line x1="643.69" y1="142.70" x2="643.69" y2="184.70" stroke="#3a3a3a" stroke-width="1.45"/>
<circle cx="643.69" cy="142.70" r="2.8" fill="#0d0d0d"/>
<circle cx="643.69" cy="184.70" r="2.8" fill="#0d0d0d"/>
<line x1="649.82" y1="156.70" x2="649.82" y2="198.70" stroke="#3a3a3a" stroke-width="1.45"/>
<circle cx="649.82" cy="156.70" r="2.8" fill="#0d0d0d"/>
<circle cx="649.82" cy="198.70" r="2.8" fill="#0d0d0d"/>
<line x1="655.95" y1="142.70" x2="655.95" y2="205.70" stroke="#3a3a3a" stroke-width="1.45"/>
<circle cx="655.95" cy="142.70" r="2.8" fill="#0d0d0d"/>
<circle cx="655.95" cy="205.70" r="2.8" fill="#d8446c"/>
<line x1="662.08" y1="149.70" x2="662.08" y2="205.70" stroke="#3a3a3a" stroke-width="1.45"/>
<circle cx="662.08" cy="149.70" r="2.8" fill="#0d0d0d"/>
<circle cx="662.08" cy="205.70" r="2.8" fill="#d8446c"/>
<line x1="668.21" y1="142.70" x2="668.21" y2="205.70" stroke="#3a3a3a" stroke-width="1.45"/>
<circle cx="668.21" cy="142.70" r="2.8" fill="#0d0d0d"/>
<circle cx="668.21" cy="149.70" r="2.8" fill="#0d0d0d"/>
<circle cx="668.21" cy="198.70" r="2.8" fill="#0d0d0d"/>
<circle cx="668.21" cy="205.70" r="2.8" fill="#d8446c"/>
<line x1="674.34" y1="149.70" x2="674.34" y2="205.70" stroke="#3a3a3a" stroke-width="1.45"/>
<circle cx="674.34" cy="149.70" r="2.8" fill="#0d0d0d"/>
<circle cx="674.34" cy="156.70" r="2.8" fill="#0d0d0d"/>
<circle cx="674.34" cy="198.70" r="2.8" fill="#0d0d0d"/>
<circle cx="674.34" cy="205.70" r="2.8" fill="#d8446c"/>
<line x1="680.47" y1="142.70" x2="680.47" y2="205.70" stroke="#3a3a3a" stroke-width="1.45"/>
<circle cx="680.47" cy="142.70" r="2.8" fill="#0d0d0d"/>
<circle cx="680.47" cy="156.70" r="2.8" fill="#0d0d0d"/>
<circle cx="680.47" cy="191.70" r="2.8" fill="#0d0d0d"/>
<circle cx="680.47" cy="198.70" r="2.8" fill="#0d0d0d"/>
<circle cx="680.47" cy="205.70" r="2.8" fill="#d8446c"/>
<text transform="translate(429.80 145.30) scale(1 1.08)" font-size="7.6" text-anchor="end" fill="#231f20" font-style="italic">qmo</text>
<text transform="translate(429.80 152.30) scale(1 1.08)" font-size="7.6" text-anchor="end" fill="#231f20" font-style="italic">apr/sat</text>
<text transform="translate(429.80 159.30) scale(1 1.08)" font-size="7.6" text-anchor="end" fill="#231f20">rDSR</text>
<text transform="translate(429.80 166.30) scale(1 1.08)" font-size="7.6" text-anchor="end" fill="#231f20" font-style="italic">psrA</text>
<text transform="translate(429.80 173.30) scale(1 1.08)" font-size="7.6" text-anchor="end" fill="#231f20" font-style="italic">soe</text>
<text transform="translate(429.80 180.30) scale(1 1.08)" font-size="7.6" text-anchor="end" fill="#231f20" font-style="italic">sox</text>
<text transform="translate(429.80 187.30) scale(1 1.08)" font-size="7.6" text-anchor="end" fill="#231f20" font-style="italic">sbp</text>
<text transform="translate(429.80 194.30) scale(1 1.08)" font-size="7.6" text-anchor="end" fill="#231f20" font-style="italic">fccA</text>
<text transform="translate(429.80 201.30) scale(1 1.08)" font-size="7.6" text-anchor="end" fill="#231f20" font-style="italic">sqr</text>
<text transform="translate(429.80 208.30) scale(1 1.08)" font-size="7.6" text-anchor="end" fill="#d8446c" font-style="italic">cbb</text>
<text transform="translate(429.80 215.30) scale(1 1.08)" font-size="7.6" text-anchor="end" fill="#f3bb3b" font-style="italic">rtca</text>
<rect x="392.50" y="139.70" width="8.30" height="3.10" fill="#0d0d0d"/>
<rect x="387.10" y="146.70" width="13.70" height="3.10" fill="#0d0d0d"/>
<rect x="366.20" y="153.70" width="34.60" height="3.10" fill="#0d0d0d"/>
<rect x="398.30" y="160.70" width="2.50" height="3.10" fill="#0d0d0d"/>
<rect x="394.10" y="167.70" width="6.70" height="3.10" fill="#0d0d0d"/>
<rect x="393.30" y="174.70" width="7.50" height="3.10" fill="#0d0d0d"/>
<rect x="386.80" y="181.70" width="14.00" height="3.10" fill="#0d0d0d"/>
<rect x="360.30" y="188.70" width="40.50" height="3.10" fill="#0d0d0d"/>
<rect x="363.10" y="195.70" width="37.70" height="3.10" fill="#0d0d0d"/>
<rect x="350.10" y="202.70" width="50.70" height="3.10" fill="#d8446c"/>
<rect x="386.30" y="209.70" width="14.50" height="3.10" fill="#f3bb3b"/>
<line x1="349.30" y1="214.40" x2="403.30" y2="214.40" stroke="#8f8f8f" stroke-width="0.8"/>
<line x1="360.40" y1="214.40" x2="360.40" y2="217.80" stroke="#555" stroke-width="0.7"/>
<line x1="370.40" y1="214.40" x2="370.40" y2="217.80" stroke="#555" stroke-width="0.7"/>
<line x1="380.60" y1="214.40" x2="380.60" y2="217.80" stroke="#555" stroke-width="0.7"/>
<line x1="390.40" y1="214.40" x2="390.40" y2="217.80" stroke="#555" stroke-width="0.7"/>
<line x1="401.00" y1="214.40" x2="401.00" y2="217.80" stroke="#555" stroke-width="0.7"/>
<text transform="translate(363.30 225.70) rotate(-30) scale(1 1.08)" font-size="7.8" text-anchor="end" fill="#231f20">400</text>
<text transform="translate(383.50 225.70) rotate(-30) scale(1 1.08)" font-size="7.8" text-anchor="end" fill="#231f20">200</text>
<text transform="translate(403.90 225.70) rotate(-30) scale(1 1.08)" font-size="7.8" text-anchor="end" fill="#231f20">0</text>
<text transform="translate(376.50 247.40) scale(1 1.08)" font-size="8.9" text-anchor="middle" fill="#231f20">Set size</text>
<text transform="translate(400.50 10.50)" font-size="13" text-anchor="start" fill="#000" font-weight="bold">b</text>
<rect x="83.80" y="403.94" width="250.20" height="6.93" fill="#e5e5e5"/>
<rect x="83.80" y="417.84" width="250.20" height="6.93" fill="#e5e5e5"/>
<rect x="83.80" y="431.74" width="250.20" height="6.93" fill="#e5e5e5"/>
<rect x="83.80" y="446.14" width="250.20" height="6.93" fill="#e5e5e5"/>
<rect x="83.80" y="459.84" width="250.20" height="6.93" fill="#e5e5e5"/>
<rect x="83.80" y="473.44" width="250.20" height="6.93" fill="#e5e5e5"/>
<rect x="87.75" y="330.50" width="3.90" height="73.10" fill="#3b3b3b"/>
<rect x="93.86" y="361.10" width="3.90" height="42.50" fill="#3b3b3b"/>
<rect x="99.98" y="368.50" width="3.90" height="35.10" fill="#3b3b3b"/>
<rect x="106.09" y="387.00" width="3.90" height="16.60" fill="#3b3b3b"/>
<rect x="112.21" y="389.00" width="3.90" height="14.60" fill="#3b3b3b"/>
<rect x="118.33" y="391.90" width="3.90" height="11.70" fill="#3b3b3b"/>
<rect x="124.44" y="392.80" width="3.90" height="10.80" fill="#3b3b3b"/>
<rect x="130.56" y="392.90" width="3.90" height="10.70" fill="#3b3b3b"/>
<rect x="136.67" y="394.10" width="3.90" height="9.50" fill="#3b3b3b"/>
<rect x="142.79" y="394.30" width="3.90" height="9.30" fill="#3b3b3b"/>
<rect x="148.90" y="395.90" width="3.90" height="7.70" fill="#3b3b3b"/>
<rect x="155.02" y="396.40" width="3.90" height="7.20" fill="#3b3b3b"/>
<rect x="161.13" y="398.00" width="3.90" height="5.60" fill="#3b3b3b"/>
<rect x="167.25" y="398.00" width="3.90" height="5.60" fill="#3b3b3b"/>
<rect x="173.36" y="398.80" width="3.90" height="4.80" fill="#3b3b3b"/>
<rect x="179.48" y="398.80" width="3.90" height="4.80" fill="#3b3b3b"/>
<rect x="185.59" y="399.90" width="3.90" height="3.70" fill="#3b3b3b"/>
<rect x="191.71" y="399.90" width="3.90" height="3.70" fill="#3b3b3b"/>
<rect x="197.82" y="399.90" width="3.90" height="3.70" fill="#3b3b3b"/>
<rect x="203.94" y="399.90" width="3.90" height="3.70" fill="#3b3b3b"/>
<rect x="210.05" y="399.90" width="3.90" height="3.70" fill="#3b3b3b"/>
<rect x="216.17" y="399.90" width="3.90" height="3.70" fill="#3b3b3b"/>
<rect x="222.28" y="400.70" width="3.90" height="2.90" fill="#3b3b3b"/>
<rect x="228.40" y="401.10" width="3.90" height="2.50" fill="#3b3b3b"/>
<rect x="234.51" y="401.50" width="3.90" height="2.10" fill="#3b3b3b"/>
<rect x="240.62" y="401.50" width="3.90" height="2.10" fill="#3b3b3b"/>
<rect x="246.74" y="401.50" width="3.90" height="2.10" fill="#3b3b3b"/>
<rect x="252.86" y="401.50" width="3.90" height="2.10" fill="#3b3b3b"/>
<rect x="258.97" y="402.30" width="3.90" height="1.30" fill="#3b3b3b"/>
<rect x="265.09" y="402.60" width="3.90" height="1.00" fill="#3b3b3b"/>
<rect x="271.20" y="402.60" width="3.90" height="1.00" fill="#3b3b3b"/>
<rect x="277.31" y="402.60" width="3.90" height="1.00" fill="#3b3b3b"/>
<rect x="283.43" y="402.60" width="3.90" height="1.00" fill="#3b3b3b"/>
<rect x="289.55" y="402.60" width="3.90" height="1.00" fill="#3b3b3b"/>
<rect x="295.66" y="402.60" width="3.90" height="1.00" fill="#3b3b3b"/>
<rect x="301.78" y="402.60" width="3.90" height="1.00" fill="#3b3b3b"/>
<rect x="307.89" y="402.60" width="3.90" height="1.00" fill="#3b3b3b"/>
<rect x="314.00" y="402.60" width="3.90" height="1.00" fill="#3b3b3b"/>
<rect x="320.12" y="402.60" width="3.90" height="1.00" fill="#3b3b3b"/>
<rect x="326.24" y="402.60" width="3.90" height="1.00" fill="#3b3b3b"/>
<line x1="84.10" y1="319.20" x2="84.10" y2="403.60" stroke="#c4c4c4" stroke-width="0.7"/>
<line x1="83.75" y1="403.60" x2="334.00" y2="403.60" stroke="#3a3a3a" stroke-width="0.75"/>
<line x1="80.70" y1="321.00" x2="84.10" y2="321.00" stroke="#808080" stroke-width="0.7"/>
<text transform="translate(77.50 323.77) scale(1 1.08)" font-size="7.7" text-anchor="end" fill="#231f20">250</text>
<line x1="80.70" y1="337.40" x2="84.10" y2="337.40" stroke="#808080" stroke-width="0.7"/>
<text transform="translate(77.50 340.17) scale(1 1.08)" font-size="7.7" text-anchor="end" fill="#231f20">200</text>
<line x1="80.70" y1="353.90" x2="84.10" y2="353.90" stroke="#808080" stroke-width="0.7"/>
<text transform="translate(77.50 356.67) scale(1 1.08)" font-size="7.7" text-anchor="end" fill="#231f20">150</text>
<line x1="80.70" y1="370.40" x2="84.10" y2="370.40" stroke="#808080" stroke-width="0.7"/>
<text transform="translate(77.50 373.17) scale(1 1.08)" font-size="7.7" text-anchor="end" fill="#231f20">100</text>
<line x1="80.70" y1="386.90" x2="84.10" y2="386.90" stroke="#808080" stroke-width="0.7"/>
<text transform="translate(77.50 389.67) scale(1 1.08)" font-size="7.7" text-anchor="end" fill="#231f20">50</text>
<text transform="translate(56.40 361.30) rotate(-90) scale(1 1.08)" font-size="7.6" text-anchor="middle" fill="#231f20">Intersection size</text>
<circle cx="89.70" cy="470.10" r="2.8" fill="#d8446c"/>
<line x1="95.81" y1="435.20" x2="95.81" y2="470.10" stroke="#3a3a3a" stroke-width="1.45"/>
<circle cx="95.81" cy="435.20" r="2.8" fill="#0d0d0d"/>
<circle cx="95.81" cy="470.10" r="2.8" fill="#d8446c"/>
<circle cx="101.93" cy="463.30" r="2.8" fill="#0d0d0d"/>
<line x1="108.05" y1="407.40" x2="108.05" y2="470.10" stroke="#3a3a3a" stroke-width="1.45"/>
<circle cx="108.05" cy="407.40" r="2.8" fill="#0d0d0d"/>
<circle cx="108.05" cy="435.20" r="2.8" fill="#0d0d0d"/>
<circle cx="108.05" cy="470.10" r="2.8" fill="#d8446c"/>
<line x1="114.16" y1="407.40" x2="114.16" y2="470.10" stroke="#3a3a3a" stroke-width="1.45"/>
<circle cx="114.16" cy="407.40" r="2.8" fill="#0d0d0d"/>
<circle cx="114.16" cy="428.40" r="2.8" fill="#0d0d0d"/>
<circle cx="114.16" cy="435.20" r="2.8" fill="#0d0d0d"/>
<circle cx="114.16" cy="470.10" r="2.8" fill="#d8446c"/>
<line x1="120.28" y1="442.50" x2="120.28" y2="476.90" stroke="#3a3a3a" stroke-width="1.45"/>
<circle cx="120.28" cy="442.50" r="2.8" fill="#0d0d0d"/>
<circle cx="120.28" cy="463.30" r="2.8" fill="#0d0d0d"/>
<circle cx="120.28" cy="476.90" r="2.8" fill="#f3bb3b"/>
<line x1="126.39" y1="442.50" x2="126.39" y2="463.30" stroke="#3a3a3a" stroke-width="1.45"/>
<circle cx="126.39" cy="442.50" r="2.8" fill="#0d0d0d"/>
<circle cx="126.39" cy="463.30" r="2.8" fill="#0d0d0d"/>
<line x1="132.50" y1="407.40" x2="132.50" y2="470.10" stroke="#3a3a3a" stroke-width="1.45"/>
<circle cx="132.50" cy="407.40" r="2.8" fill="#0d0d0d"/>
<circle cx="132.50" cy="470.10" r="2.8" fill="#d8446c"/>
<circle cx="138.62" cy="421.30" r="2.8" fill="#0d0d0d"/>
<circle cx="144.74" cy="435.20" r="2.8" fill="#0d0d0d"/>
<line x1="150.85" y1="414.50" x2="150.85" y2="456.50" stroke="#3a3a3a" stroke-width="1.45"/>
<circle cx="150.85" cy="414.50" r="2.8" fill="#0d0d0d"/>
<circle cx="150.85" cy="456.50" r="2.8" fill="#0d0d0d"/>
<circle cx="156.97" cy="407.40" r="2.8" fill="#0d0d0d"/>
<circle cx="163.08" cy="476.90" r="2.8" fill="#f3bb3b"/>
<line x1="169.19" y1="421.30" x2="169.19" y2="476.90" stroke="#3a3a3a" stroke-width="1.45"/>
<circle cx="169.19" cy="421.30" r="2.8" fill="#0d0d0d"/>
<circle cx="169.19" cy="476.90" r="2.8" fill="#f3bb3b"/>
<line x1="175.31" y1="421.30" x2="175.31" y2="476.90" stroke="#3a3a3a" stroke-width="1.45"/>
<circle cx="175.31" cy="421.30" r="2.8" fill="#0d0d0d"/>
<circle cx="175.31" cy="442.50" r="2.8" fill="#0d0d0d"/>
<circle cx="175.31" cy="463.30" r="2.8" fill="#0d0d0d"/>
<circle cx="175.31" cy="476.90" r="2.8" fill="#f3bb3b"/>
<line x1="181.43" y1="442.50" x2="181.43" y2="463.30" stroke="#3a3a3a" stroke-width="1.45"/>
<circle cx="181.43" cy="442.50" r="2.8" fill="#0d0d0d"/>
<circle cx="181.43" cy="456.50" r="2.8" fill="#0d0d0d"/>
<circle cx="181.43" cy="463.30" r="2.8" fill="#0d0d0d"/>
<line x1="187.54" y1="421.30" x2="187.54" y2="449.60" stroke="#3a3a3a" stroke-width="1.45"/>
<circle cx="187.54" cy="421.30" r="2.8" fill="#0d0d0d"/>
<circle cx="187.54" cy="449.60" r="2.8" fill="#0d0d0d"/>
<line x1="193.66" y1="421.30" x2="193.66" y2="476.90" stroke="#3a3a3a" stroke-width="1.45"/>
<circle cx="193.66" cy="421.30" r="2.8" fill="#0d0d0d"/>
<circle cx="193.66" cy="442.50" r="2.8" fill="#0d0d0d"/>
<circle cx="193.66" cy="476.90" r="2.8" fill="#f3bb3b"/>
<line x1="199.77" y1="421.30" x2="199.77" y2="476.90" stroke="#3a3a3a" stroke-width="1.45"/>
<circle cx="199.77" cy="421.30" r="2.8" fill="#0d0d0d"/>
<circle cx="199.77" cy="435.20" r="2.8" fill="#0d0d0d"/>
<circle cx="199.77" cy="449.60" r="2.8" fill="#0d0d0d"/>
<circle cx="199.77" cy="476.90" r="2.8" fill="#f3bb3b"/>
<circle cx="205.88" cy="449.60" r="2.8" fill="#0d0d0d"/>
<line x1="212.00" y1="421.30" x2="212.00" y2="470.10" stroke="#3a3a3a" stroke-width="1.45"/>
<circle cx="212.00" cy="421.30" r="2.8" fill="#0d0d0d"/>
<circle cx="212.00" cy="470.10" r="2.8" fill="#d8446c"/>
<line x1="218.12" y1="421.30" x2="218.12" y2="470.10" stroke="#3a3a3a" stroke-width="1.45"/>
<circle cx="218.12" cy="421.30" r="2.8" fill="#0d0d0d"/>
<circle cx="218.12" cy="435.20" r="2.8" fill="#0d0d0d"/>
<circle cx="218.12" cy="470.10" r="2.8" fill="#d8446c"/>
<circle cx="224.23" cy="428.40" r="2.8" fill="#0d0d0d"/>
<line x1="230.35" y1="442.50" x2="230.35" y2="476.90" stroke="#3a3a3a" stroke-width="1.45"/>
<circle cx="230.35" cy="442.50" r="2.8" fill="#0d0d0d"/>
<circle cx="230.35" cy="456.50" r="2.8" fill="#0d0d0d"/>
<circle cx="230.35" cy="463.30" r="2.8" fill="#0d0d0d"/>
<circle cx="230.35" cy="476.90" r="2.8" fill="#f3bb3b"/>
<circle cx="236.46" cy="414.50" r="2.8" fill="#0d0d0d"/>
<line x1="242.57" y1="421.30" x2="242.57" y2="476.90" stroke="#3a3a3a" stroke-width="1.45"/>
<circle cx="242.57" cy="421.30" r="2.8" fill="#0d0d0d"/>
<circle cx="242.57" cy="463.30" r="2.8" fill="#0d0d0d"/>
<circle cx="242.57" cy="476.90" r="2.8" fill="#f3bb3b"/>
<line x1="248.69" y1="414.50" x2="248.69" y2="456.50" stroke="#3a3a3a" stroke-width="1.45"/>
<circle cx="248.69" cy="414.50" r="2.8" fill="#0d0d0d"/>
<circle cx="248.69" cy="442.50" r="2.8" fill="#0d0d0d"/>
<circle cx="248.69" cy="456.50" r="2.8" fill="#0d0d0d"/>
<line x1="254.81" y1="442.50" x2="254.81" y2="476.90" stroke="#3a3a3a" stroke-width="1.45"/>
<circle cx="254.81" cy="442.50" r="2.8" fill="#0d0d0d"/>
<circle cx="254.81" cy="476.90" r="2.8" fill="#f3bb3b"/>
<line x1="260.92" y1="463.30" x2="260.92" y2="476.90" stroke="#3a3a3a" stroke-width="1.45"/>
<circle cx="260.92" cy="463.30" r="2.8" fill="#0d0d0d"/>
<circle cx="260.92" cy="476.90" r="2.8" fill="#f3bb3b"/>
<line x1="267.04" y1="421.30" x2="267.04" y2="435.20" stroke="#3a3a3a" stroke-width="1.45"/>
<circle cx="267.04" cy="421.30" r="2.8" fill="#0d0d0d"/>
<circle cx="267.04" cy="435.20" r="2.8" fill="#0d0d0d"/>
<circle cx="273.15" cy="456.50" r="2.8" fill="#0d0d0d"/>
<line x1="279.26" y1="456.50" x2="279.26" y2="463.30" stroke="#3a3a3a" stroke-width="1.45"/>
<circle cx="279.26" cy="456.50" r="2.8" fill="#0d0d0d"/>
<circle cx="279.26" cy="463.30" r="2.8" fill="#0d0d0d"/>
<line x1="285.38" y1="407.40" x2="285.38" y2="470.10" stroke="#3a3a3a" stroke-width="1.45"/>
<circle cx="285.38" cy="407.40" r="2.8" fill="#0d0d0d"/>
<circle cx="285.38" cy="421.30" r="2.8" fill="#0d0d0d"/>
<circle cx="285.38" cy="435.20" r="2.8" fill="#0d0d0d"/>
<circle cx="285.38" cy="470.10" r="2.8" fill="#d8446c"/>
<line x1="291.50" y1="407.40" x2="291.50" y2="470.10" stroke="#3a3a3a" stroke-width="1.45"/>
<circle cx="291.50" cy="407.40" r="2.8" fill="#0d0d0d"/>
<circle cx="291.50" cy="421.30" r="2.8" fill="#0d0d0d"/>
<circle cx="291.50" cy="428.40" r="2.8" fill="#0d0d0d"/>
<circle cx="291.50" cy="435.20" r="2.8" fill="#0d0d0d"/>
<circle cx="291.50" cy="470.10" r="2.8" fill="#d8446c"/>
<line x1="297.61" y1="421.30" x2="297.61" y2="463.30" stroke="#3a3a3a" stroke-width="1.45"/>
<circle cx="297.61" cy="421.30" r="2.8" fill="#0d0d0d"/>
<circle cx="297.61" cy="463.30" r="2.8" fill="#0d0d0d"/>
<line x1="303.73" y1="407.40" x2="303.73" y2="470.10" stroke="#3a3a3a" stroke-width="1.45"/>
<circle cx="303.73" cy="407.40" r="2.8" fill="#0d0d0d"/>
<circle cx="303.73" cy="428.40" r="2.8" fill="#0d0d0d"/>
<circle cx="303.73" cy="470.10" r="2.8" fill="#d8446c"/>
<line x1="309.84" y1="428.40" x2="309.84" y2="470.10" stroke="#3a3a3a" stroke-width="1.45"/>
<circle cx="309.84" cy="428.40" r="2.8" fill="#0d0d0d"/>
<circle cx="309.84" cy="435.20" r="2.8" fill="#0d0d0d"/>
<circle cx="309.84" cy="470.10" r="2.8" fill="#d8446c"/>
<line x1="315.95" y1="449.60" x2="315.95" y2="470.10" stroke="#3a3a3a" stroke-width="1.45"/>
<circle cx="315.95" cy="449.60" r="2.8" fill="#0d0d0d"/>
<circle cx="315.95" cy="470.10" r="2.8" fill="#d8446c"/>
<line x1="322.07" y1="421.30" x2="322.07" y2="476.90" stroke="#3a3a3a" stroke-width="1.45"/>
<circle cx="322.07" cy="421.30" r="2.8" fill="#0d0d0d"/>
<circle cx="322.07" cy="449.60" r="2.8" fill="#0d0d0d"/>
<circle cx="322.07" cy="476.90" r="2.8" fill="#f3bb3b"/>
<circle cx="328.19" cy="442.50" r="2.8" fill="#0d0d0d"/>
<text transform="translate(80.20 410.00) scale(1 1.08)" font-size="7.6" text-anchor="end" fill="#231f20" font-style="italic">pet</text>
<text transform="translate(80.20 417.10) scale(1 1.08)" font-size="7.6" text-anchor="end" fill="#231f20">V1atpase</text>
<text transform="translate(80.20 423.90) scale(1 1.08)" font-size="7.6" text-anchor="end" fill="#231f20" font-style="italic">nuo</text>
<text transform="translate(80.20 431.00) scale(1 1.08)" font-size="7.6" text-anchor="end" fill="#231f20" font-style="italic">cco</text>
<text transform="translate(80.20 437.80) scale(1 1.08)" font-size="7.6" text-anchor="end" fill="#231f20">F1atpase</text>
<text transform="translate(80.20 445.10) scale(1 1.08)" font-size="7.6" text-anchor="end" fill="#231f20">V2atpase</text>
<text transform="translate(80.20 452.20) scale(1 1.08)" font-size="7.6" text-anchor="end" fill="#231f20" font-style="italic">mbx</text>
<text transform="translate(80.20 459.10) scale(1 1.08)" font-size="7.6" text-anchor="end" fill="#231f20" font-style="italic">hyd3b</text>
<text transform="translate(80.20 465.90) scale(1 1.08)" font-size="7.6" text-anchor="end" fill="#231f20" font-style="italic">hyd1e</text>
<text transform="translate(80.20 472.70) scale(1 1.08)" font-size="7.6" text-anchor="end" fill="#d8446c" font-style="italic">cbb</text>
<text transform="translate(80.20 479.50) scale(1 1.08)" font-size="7.6" text-anchor="end" fill="#f3bb3b" font-style="italic">rtca</text>
<rect x="34.00" y="404.70" width="14.00" height="3.20" fill="#0d0d0d"/>
<rect x="43.90" y="411.80" width="4.10" height="3.20" fill="#0d0d0d"/>
<rect x="35.40" y="418.60" width="12.60" height="3.20" fill="#0d0d0d"/>
<rect x="42.10" y="425.70" width="5.90" height="3.20" fill="#0d0d0d"/>
<rect x="22.60" y="432.50" width="25.40" height="3.20" fill="#0d0d0d"/>
<rect x="35.80" y="439.80" width="12.20" height="3.20" fill="#0d0d0d"/>
<rect x="44.40" y="446.90" width="3.60" height="3.20" fill="#0d0d0d"/>
<rect x="42.10" y="453.80" width="5.90" height="3.20" fill="#0d0d0d"/>
<rect x="27.00" y="460.60" width="21.00" height="3.20" fill="#0d0d0d"/>
<rect x="2.60" y="467.40" width="45.40" height="3.20" fill="#d8446c"/>
<rect x="35.10" y="474.20" width="12.90" height="3.20" fill="#f3bb3b"/>
<line x1="0.00" y1="478.30" x2="49.90" y2="478.30" stroke="#8f8f8f" stroke-width="0.8"/>
<line x1="4.40" y1="478.30" x2="4.40" y2="481.70" stroke="#555" stroke-width="0.7"/>
<line x1="13.30" y1="478.30" x2="13.30" y2="481.70" stroke="#555" stroke-width="0.7"/>
<line x1="22.10" y1="478.30" x2="22.10" y2="481.70" stroke="#555" stroke-width="0.7"/>
<line x1="30.60" y1="478.30" x2="30.60" y2="481.70" stroke="#555" stroke-width="0.7"/>
<line x1="39.60" y1="478.30" x2="39.60" y2="481.70" stroke="#555" stroke-width="0.7"/>
<line x1="48.40" y1="478.30" x2="48.40" y2="481.70" stroke="#555" stroke-width="0.7"/>
<text transform="translate(16.20 489.60) rotate(-30) scale(1 1.08)" font-size="7.8" text-anchor="end" fill="#231f20">400</text>
<text transform="translate(33.50 489.60) rotate(-30) scale(1 1.08)" font-size="7.8" text-anchor="end" fill="#231f20">200</text>
<text transform="translate(51.30 489.60) rotate(-30) scale(1 1.08)" font-size="7.8" text-anchor="end" fill="#231f20">0</text>
<text transform="translate(25.00 510.80) scale(1 1.08)" font-size="8.9" text-anchor="middle" fill="#231f20">Set size</text>
<text transform="translate(50.00 284.20)" font-size="13" text-anchor="start" fill="#000" font-weight="bold">c</text>
<rect x="441.90" y="386.64" width="222.10" height="6.93" fill="#e5e5e5"/>
<rect x="441.90" y="400.50" width="222.10" height="6.93" fill="#e5e5e5"/>
<rect x="441.90" y="414.36" width="222.10" height="6.93" fill="#e5e5e5"/>
<rect x="441.90" y="428.22" width="222.10" height="6.93" fill="#e5e5e5"/>
<rect x="441.90" y="442.08" width="222.10" height="6.93" fill="#e5e5e5"/>
<rect x="441.90" y="455.94" width="222.10" height="6.93" fill="#e5e5e5"/>
<rect x="441.90" y="469.80" width="222.10" height="6.93" fill="#e5e5e5"/>
<rect x="444.30" y="314.50" width="3.40" height="71.30" fill="#3b3b3b"/>
<rect x="449.80" y="324.30" width="3.40" height="61.50" fill="#3b3b3b"/>
<rect x="455.30" y="326.20" width="3.40" height="59.60" fill="#3b3b3b"/>
<rect x="460.80" y="335.50" width="3.40" height="50.30" fill="#3b3b3b"/>
<rect x="466.30" y="337.90" width="3.40" height="47.90" fill="#3b3b3b"/>
<rect x="471.80" y="344.90" width="3.40" height="40.90" fill="#3b3b3b"/>
<rect x="477.30" y="344.90" width="3.40" height="40.90" fill="#3b3b3b"/>
<rect x="482.80" y="352.40" width="3.40" height="33.40" fill="#3b3b3b"/>
<rect x="488.30" y="358.80" width="3.40" height="27.00" fill="#3b3b3b"/>
<rect x="493.80" y="359.50" width="3.40" height="26.30" fill="#3b3b3b"/>
<rect x="499.30" y="359.50" width="3.40" height="26.30" fill="#3b3b3b"/>
<rect x="504.80" y="360.20" width="3.40" height="25.60" fill="#3b3b3b"/>
<rect x="510.30" y="362.70" width="3.40" height="23.10" fill="#3b3b3b"/>
<rect x="515.80" y="367.40" width="3.40" height="18.40" fill="#3b3b3b"/>
<rect x="521.30" y="369.00" width="3.40" height="16.80" fill="#3b3b3b"/>
<rect x="526.80" y="371.50" width="3.40" height="14.30" fill="#3b3b3b"/>
<rect x="532.30" y="371.50" width="3.40" height="14.30" fill="#3b3b3b"/>
<rect x="537.80" y="374.80" width="3.40" height="11.00" fill="#3b3b3b"/>
<rect x="543.30" y="378.10" width="3.40" height="7.70" fill="#3b3b3b"/>
<rect x="548.80" y="378.90" width="3.40" height="6.90" fill="#3b3b3b"/>
<rect x="554.30" y="378.90" width="3.40" height="6.90" fill="#3b3b3b"/>
<rect x="559.80" y="379.70" width="3.40" height="6.10" fill="#3b3b3b"/>
<rect x="565.30" y="379.70" width="3.40" height="6.10" fill="#3b3b3b"/>
<rect x="570.80" y="379.70" width="3.40" height="6.10" fill="#3b3b3b"/>
<rect x="576.30" y="379.70" width="3.40" height="6.10" fill="#3b3b3b"/>
<rect x="581.80" y="380.30" width="3.40" height="5.50" fill="#3b3b3b"/>
<rect x="587.30" y="380.20" width="3.40" height="5.60" fill="#3b3b3b"/>
<rect x="592.80" y="380.20" width="3.40" height="5.60" fill="#3b3b3b"/>
<rect x="598.30" y="381.00" width="3.40" height="4.80" fill="#3b3b3b"/>
<rect x="603.80" y="381.00" width="3.40" height="4.80" fill="#3b3b3b"/>
<rect x="609.30" y="381.00" width="3.40" height="4.80" fill="#3b3b3b"/>
<rect x="614.80" y="381.00" width="3.40" height="4.80" fill="#3b3b3b"/>
<rect x="620.30" y="381.00" width="3.40" height="4.80" fill="#3b3b3b"/>
<rect x="625.80" y="381.80" width="3.40" height="4.00" fill="#3b3b3b"/>
<rect x="631.30" y="381.80" width="3.40" height="4.00" fill="#3b3b3b"/>
<rect x="636.80" y="381.80" width="3.40" height="4.00" fill="#3b3b3b"/>
<rect x="642.30" y="381.80" width="3.40" height="4.00" fill="#3b3b3b"/>
<rect x="647.80" y="382.90" width="3.40" height="2.90" fill="#3b3b3b"/>
<rect x="653.30" y="382.90" width="3.40" height="2.90" fill="#3b3b3b"/>
<rect x="658.80" y="382.90" width="3.40" height="2.90" fill="#3b3b3b"/>
<line x1="440.50" y1="303.30" x2="440.50" y2="385.80" stroke="#8a8a8a" stroke-width="0.7"/>
<line x1="440.15" y1="385.80" x2="664.00" y2="385.80" stroke="#3a3a3a" stroke-width="0.75"/>
<line x1="437.90" y1="305.50" x2="440.50" y2="305.50" stroke="#808080" stroke-width="0.7"/>
<text transform="translate(433.90 308.42) scale(1 1.08)" font-size="8.1" text-anchor="end" fill="#231f20">100</text>
<line x1="437.90" y1="325.60" x2="440.50" y2="325.60" stroke="#808080" stroke-width="0.7"/>
<text transform="translate(433.90 328.52) scale(1 1.08)" font-size="8.1" text-anchor="end" fill="#231f20">75</text>
<line x1="437.90" y1="345.60" x2="440.50" y2="345.60" stroke="#808080" stroke-width="0.7"/>
<text transform="translate(433.90 348.52) scale(1 1.08)" font-size="8.1" text-anchor="end" fill="#231f20">50</text>
<line x1="437.90" y1="365.70" x2="440.50" y2="365.70" stroke="#808080" stroke-width="0.7"/>
<text transform="translate(433.90 368.62) scale(1 1.08)" font-size="8.1" text-anchor="end" fill="#231f20">25</text>
<text transform="translate(414.50 344.50) rotate(-90) scale(1 1.08)" font-size="9.1" text-anchor="middle" fill="#231f20">Intersection size</text>
<circle cx="446.00" cy="438.11" r="2.8" fill="#0d0d0d"/>
<line x1="451.50" y1="451.97" x2="451.50" y2="465.83" stroke="#3a3a3a" stroke-width="1.45"/>
<circle cx="451.50" cy="451.97" r="2.8" fill="#0d0d0d"/>
<circle cx="451.50" cy="465.83" r="2.8" fill="#d8446c"/>
<circle cx="457.00" cy="396.53" r="2.8" fill="#0d0d0d"/>
<circle cx="462.50" cy="465.83" r="2.8" fill="#d8446c"/>
<circle cx="468.00" cy="472.76" r="2.8" fill="#f3bb3b"/>
<circle cx="473.50" cy="424.25" r="2.8" fill="#0d0d0d"/>
<line x1="479.00" y1="458.90" x2="479.00" y2="472.76" stroke="#3a3a3a" stroke-width="1.45"/>
<circle cx="479.00" cy="458.90" r="2.8" fill="#0d0d0d"/>
<circle cx="479.00" cy="472.76" r="2.8" fill="#f3bb3b"/>
<line x1="484.50" y1="424.25" x2="484.50" y2="465.83" stroke="#3a3a3a" stroke-width="1.45"/>
<circle cx="484.50" cy="424.25" r="2.8" fill="#0d0d0d"/>
<circle cx="484.50" cy="465.83" r="2.8" fill="#d8446c"/>
<line x1="490.00" y1="424.25" x2="490.00" y2="465.83" stroke="#3a3a3a" stroke-width="1.45"/>
<circle cx="490.00" cy="424.25" r="2.8" fill="#0d0d0d"/>
<circle cx="490.00" cy="438.11" r="2.8" fill="#0d0d0d"/>
<circle cx="490.00" cy="465.83" r="2.8" fill="#d8446c"/>
<circle cx="495.50" cy="451.97" r="2.8" fill="#0d0d0d"/>
<circle cx="501.00" cy="458.90" r="2.8" fill="#0d0d0d"/>
<line x1="506.50" y1="424.25" x2="506.50" y2="465.83" stroke="#3a3a3a" stroke-width="1.45"/>
<circle cx="506.50" cy="424.25" r="2.8" fill="#0d0d0d"/>
<circle cx="506.50" cy="451.97" r="2.8" fill="#0d0d0d"/>
<circle cx="506.50" cy="465.83" r="2.8" fill="#d8446c"/>
<line x1="512.00" y1="431.18" x2="512.00" y2="438.11" stroke="#3a3a3a" stroke-width="1.45"/>
<circle cx="512.00" cy="431.18" r="2.8" fill="#0d0d0d"/>
<circle cx="512.00" cy="438.11" r="2.8" fill="#0d0d0d"/>
<line x1="517.50" y1="438.11" x2="517.50" y2="465.83" stroke="#3a3a3a" stroke-width="1.45"/>
<circle cx="517.50" cy="438.11" r="2.8" fill="#0d0d0d"/>
<circle cx="517.50" cy="465.83" r="2.8" fill="#d8446c"/>
<line x1="523.00" y1="424.25" x2="523.00" y2="465.83" stroke="#3a3a3a" stroke-width="1.45"/>
<circle cx="523.00" cy="424.25" r="2.8" fill="#0d0d0d"/>
<circle cx="523.00" cy="438.11" r="2.8" fill="#0d0d0d"/>
<circle cx="523.00" cy="451.97" r="2.8" fill="#0d0d0d"/>
<circle cx="523.00" cy="465.83" r="2.8" fill="#d8446c"/>
<circle cx="528.50" cy="403.46" r="2.8" fill="#0d0d0d"/>
<line x1="534.00" y1="396.53" x2="534.00" y2="465.83" stroke="#3a3a3a" stroke-width="1.45"/>
<circle cx="534.00" cy="396.53" r="2.8" fill="#0d0d0d"/>
<circle cx="534.00" cy="417.32" r="2.8" fill="#0d0d0d"/>
<circle cx="534.00" cy="424.25" r="2.8" fill="#0d0d0d"/>
<circle cx="534.00" cy="438.11" r="2.8" fill="#0d0d0d"/>
<circle cx="534.00" cy="445.04" r="2.8" fill="#0d0d0d"/>
<circle cx="534.00" cy="451.97" r="2.8" fill="#0d0d0d"/>
<circle cx="534.00" cy="458.90" r="2.8" fill="#0d0d0d"/>
<circle cx="534.00" cy="465.83" r="2.8" fill="#d8446c"/>
<line x1="539.50" y1="438.11" x2="539.50" y2="472.76" stroke="#3a3a3a" stroke-width="1.45"/>
<circle cx="539.50" cy="438.11" r="2.8" fill="#0d0d0d"/>
<circle cx="539.50" cy="458.90" r="2.8" fill="#0d0d0d"/>
<circle cx="539.50" cy="472.76" r="2.8" fill="#f3bb3b"/>
<line x1="545.00" y1="396.53" x2="545.00" y2="465.83" stroke="#3a3a3a" stroke-width="1.45"/>
<circle cx="545.00" cy="396.53" r="2.8" fill="#0d0d0d"/>
<circle cx="545.00" cy="424.25" r="2.8" fill="#0d0d0d"/>
<circle cx="545.00" cy="451.97" r="2.8" fill="#0d0d0d"/>
<circle cx="545.00" cy="465.83" r="2.8" fill="#d8446c"/>
<line x1="550.50" y1="424.25" x2="550.50" y2="465.83" stroke="#3a3a3a" stroke-width="1.45"/>
<circle cx="550.50" cy="424.25" r="2.8" fill="#0d0d0d"/>
<circle cx="550.50" cy="438.11" r="2.8" fill="#0d0d0d"/>
<circle cx="550.50" cy="445.04" r="2.8" fill="#0d0d0d"/>
<circle cx="550.50" cy="465.83" r="2.8" fill="#d8446c"/>
<line x1="556.00" y1="396.53" x2="556.00" y2="465.83" stroke="#3a3a3a" stroke-width="1.45"/>
<circle cx="556.00" cy="396.53" r="2.8" fill="#0d0d0d"/>
<circle cx="556.00" cy="424.25" r="2.8" fill="#0d0d0d"/>
<circle cx="556.00" cy="438.11" r="2.8" fill="#0d0d0d"/>
<circle cx="556.00" cy="445.04" r="2.8" fill="#0d0d0d"/>
<circle cx="556.00" cy="451.97" r="2.8" fill="#0d0d0d"/>
<circle cx="556.00" cy="458.90" r="2.8" fill="#0d0d0d"/>
<circle cx="556.00" cy="465.83" r="2.8" fill="#d8446c"/>
<line x1="561.50" y1="389.60" x2="561.50" y2="465.83" stroke="#3a3a3a" stroke-width="1.45"/>
<circle cx="561.50" cy="389.60" r="2.8" fill="#0d0d0d"/>
<circle cx="561.50" cy="465.83" r="2.8" fill="#d8446c"/>
<line x1="567.00" y1="396.53" x2="567.00" y2="465.83" stroke="#3a3a3a" stroke-width="1.45"/>
<circle cx="567.00" cy="396.53" r="2.8" fill="#0d0d0d"/>
<circle cx="567.00" cy="424.25" r="2.8" fill="#0d0d0d"/>
<circle cx="567.00" cy="438.11" r="2.8" fill="#0d0d0d"/>
<circle cx="567.00" cy="451.97" r="2.8" fill="#0d0d0d"/>
<circle cx="567.00" cy="465.83" r="2.8" fill="#d8446c"/>
<line x1="572.50" y1="451.97" x2="572.50" y2="465.83" stroke="#3a3a3a" stroke-width="1.45"/>
<circle cx="572.50" cy="451.97" r="2.8" fill="#0d0d0d"/>
<circle cx="572.50" cy="458.90" r="2.8" fill="#0d0d0d"/>
<circle cx="572.50" cy="465.83" r="2.8" fill="#d8446c"/>
<line x1="578.00" y1="396.53" x2="578.00" y2="465.83" stroke="#3a3a3a" stroke-width="1.45"/>
<circle cx="578.00" cy="396.53" r="2.8" fill="#0d0d0d"/>
<circle cx="578.00" cy="417.32" r="2.8" fill="#0d0d0d"/>
<circle cx="578.00" cy="424.25" r="2.8" fill="#0d0d0d"/>
<circle cx="578.00" cy="438.11" r="2.8" fill="#0d0d0d"/>
<circle cx="578.00" cy="451.97" r="2.8" fill="#0d0d0d"/>
<circle cx="578.00" cy="458.90" r="2.8" fill="#0d0d0d"/>
<circle cx="578.00" cy="465.83" r="2.8" fill="#d8446c"/>
<line x1="583.50" y1="396.53" x2="583.50" y2="465.83" stroke="#3a3a3a" stroke-width="1.45"/>
<circle cx="583.50" cy="396.53" r="2.8" fill="#0d0d0d"/>
<circle cx="583.50" cy="424.25" r="2.8" fill="#0d0d0d"/>
<circle cx="583.50" cy="438.11" r="2.8" fill="#0d0d0d"/>
<circle cx="583.50" cy="465.83" r="2.8" fill="#d8446c"/>
<line x1="589.00" y1="445.04" x2="589.00" y2="465.83" stroke="#3a3a3a" stroke-width="1.45"/>
<circle cx="589.00" cy="445.04" r="2.8" fill="#0d0d0d"/>
<circle cx="589.00" cy="465.83" r="2.8" fill="#d8446c"/>
<line x1="594.50" y1="396.53" x2="594.50" y2="465.83" stroke="#3a3a3a" stroke-width="1.45"/>
<circle cx="594.50" cy="396.53" r="2.8" fill="#0d0d0d"/>
<circle cx="594.50" cy="424.25" r="2.8" fill="#0d0d0d"/>
<circle cx="594.50" cy="438.11" r="2.8" fill="#0d0d0d"/>
<circle cx="594.50" cy="451.97" r="2.8" fill="#0d0d0d"/>
<circle cx="594.50" cy="458.90" r="2.8" fill="#0d0d0d"/>
<circle cx="594.50" cy="465.83" r="2.8" fill="#d8446c"/>
<circle cx="600.00" cy="417.32" r="2.8" fill="#0d0d0d"/>
<line x1="605.50" y1="396.53" x2="605.50" y2="438.11" stroke="#3a3a3a" stroke-width="1.45"/>
<circle cx="605.50" cy="396.53" r="2.8" fill="#0d0d0d"/>
<circle cx="605.50" cy="431.18" r="2.8" fill="#0d0d0d"/>
<circle cx="605.50" cy="438.11" r="2.8" fill="#0d0d0d"/>
<line x1="611.00" y1="389.60" x2="611.00" y2="465.83" stroke="#3a3a3a" stroke-width="1.45"/>
<circle cx="611.00" cy="389.60" r="2.8" fill="#0d0d0d"/>
<circle cx="611.00" cy="438.11" r="2.8" fill="#0d0d0d"/>
<circle cx="611.00" cy="465.83" r="2.8" fill="#d8446c"/>
<line x1="616.50" y1="438.11" x2="616.50" y2="465.83" stroke="#3a3a3a" stroke-width="1.45"/>
<circle cx="616.50" cy="438.11" r="2.8" fill="#0d0d0d"/>
<circle cx="616.50" cy="451.97" r="2.8" fill="#0d0d0d"/>
<circle cx="616.50" cy="465.83" r="2.8" fill="#d8446c"/>
<line x1="622.00" y1="410.39" x2="622.00" y2="472.76" stroke="#3a3a3a" stroke-width="1.45"/>
<circle cx="622.00" cy="410.39" r="2.8" fill="#0d0d0d"/>
<circle cx="622.00" cy="424.25" r="2.8" fill="#0d0d0d"/>
<circle cx="622.00" cy="451.97" r="2.8" fill="#0d0d0d"/>
<circle cx="622.00" cy="458.90" r="2.8" fill="#0d0d0d"/>
<circle cx="622.00" cy="472.76" r="2.8" fill="#f3bb3b"/>
<line x1="627.50" y1="396.53" x2="627.50" y2="438.11" stroke="#3a3a3a" stroke-width="1.45"/>
<circle cx="627.50" cy="396.53" r="2.8" fill="#0d0d0d"/>
<circle cx="627.50" cy="438.11" r="2.8" fill="#0d0d0d"/>
<line x1="633.00" y1="417.32" x2="633.00" y2="465.83" stroke="#3a3a3a" stroke-width="1.45"/>
<circle cx="633.00" cy="417.32" r="2.8" fill="#0d0d0d"/>
<circle cx="633.00" cy="424.25" r="2.8" fill="#0d0d0d"/>
<circle cx="633.00" cy="465.83" r="2.8" fill="#d8446c"/>
<line x1="638.50" y1="396.53" x2="638.50" y2="465.83" stroke="#3a3a3a" stroke-width="1.45"/>
<circle cx="638.50" cy="396.53" r="2.8" fill="#0d0d0d"/>
<circle cx="638.50" cy="424.25" r="2.8" fill="#0d0d0d"/>
<circle cx="638.50" cy="438.11" r="2.8" fill="#0d0d0d"/>
<circle cx="638.50" cy="445.04" r="2.8" fill="#0d0d0d"/>
<circle cx="638.50" cy="465.83" r="2.8" fill="#d8446c"/>
<line x1="644.00" y1="389.60" x2="644.00" y2="465.83" stroke="#3a3a3a" stroke-width="1.45"/>
<circle cx="644.00" cy="389.60" r="2.8" fill="#0d0d0d"/>
<circle cx="644.00" cy="396.53" r="2.8" fill="#0d0d0d"/>
<circle cx="644.00" cy="417.32" r="2.8" fill="#0d0d0d"/>
<circle cx="644.00" cy="424.25" r="2.8" fill="#0d0d0d"/>
<circle cx="644.00" cy="438.11" r="2.8" fill="#0d0d0d"/>
<circle cx="644.00" cy="445.04" r="2.8" fill="#0d0d0d"/>
<circle cx="644.00" cy="451.97" r="2.8" fill="#0d0d0d"/>
<circle cx="644.00" cy="458.90" r="2.8" fill="#0d0d0d"/>
<circle cx="644.00" cy="465.83" r="2.8" fill="#d8446c"/>
<circle cx="649.50" cy="410.39" r="2.8" fill="#0d0d0d"/>
<line x1="655.00" y1="410.39" x2="655.00" y2="424.25" stroke="#3a3a3a" stroke-width="1.45"/>
<circle cx="655.00" cy="410.39" r="2.8" fill="#0d0d0d"/>
<circle cx="655.00" cy="424.25" r="2.8" fill="#0d0d0d"/>
<circle cx="660.50" cy="431.18" r="2.8" fill="#0d0d0d"/>
<text transform="translate(437.20 392.60) scale(1 1.08)" font-size="7.6" text-anchor="end" fill="#231f20">Val</text>
<text transform="translate(437.20 399.53) scale(1 1.08)" font-size="7.6" text-anchor="end" fill="#231f20">His</text>
<text transform="translate(437.20 406.46) scale(1 1.08)" font-size="7.6" text-anchor="end" fill="#231f20">Leu/Ile</text>
<text transform="translate(437.20 413.39) scale(1 1.08)" font-size="7.6" text-anchor="end" fill="#231f20">Phe/Tyr</text>
<text transform="translate(437.20 420.32) scale(1 1.08)" font-size="7.6" text-anchor="end" fill="#231f20">Trp</text>
<text transform="translate(437.20 427.25) scale(1 1.08)" font-size="7.6" text-anchor="end" fill="#231f20">shikimate</text>
<text transform="translate(437.20 434.18) scale(1 1.08)" font-size="7.6" text-anchor="end" fill="#231f20">Arg</text>
<text transform="translate(437.20 441.11) scale(1 1.08)" font-size="7.6" text-anchor="end" fill="#231f20">Orn</text>
<text transform="translate(437.20 448.04) scale(1 1.08)" font-size="7.6" text-anchor="end" fill="#231f20">Cit</text>
<text transform="translate(437.20 454.97) scale(1 1.08)" font-size="7.6" text-anchor="end" fill="#231f20">Asn</text>
<text transform="translate(437.20 461.90) scale(1 1.08)" font-size="7.6" text-anchor="end" fill="#231f20">Lys</text>
<text transform="translate(437.20 468.83) scale(1 1.08)" font-size="7.6" text-anchor="end" fill="#d8446c" font-style="italic">cbb</text>
<text transform="translate(437.20 475.76) scale(1 1.08)" font-size="7.6" text-anchor="end" fill="#f3bb3b" font-style="italic">rtca</text>
<rect x="391.80" y="389.15" width="5.00" height="3.70" fill="#0d0d0d"/>
<rect x="377.40" y="396.08" width="19.40" height="3.70" fill="#0d0d0d"/>
<rect x="391.40" y="403.01" width="5.40" height="3.70" fill="#0d0d0d"/>
<rect x="393.60" y="409.94" width="3.20" height="3.70" fill="#0d0d0d"/>
<rect x="388.40" y="416.87" width="8.40" height="3.70" fill="#0d0d0d"/>
<rect x="364.10" y="423.80" width="32.70" height="3.70" fill="#0d0d0d"/>
<rect x="392.30" y="430.73" width="4.50" height="3.70" fill="#0d0d0d"/>
<rect x="361.50" y="437.66" width="35.30" height="3.70" fill="#0d0d0d"/>
<rect x="386.90" y="444.59" width="9.90" height="3.70" fill="#0d0d0d"/>
<rect x="371.20" y="451.52" width="25.60" height="3.70" fill="#0d0d0d"/>
<rect x="378.30" y="458.45" width="18.50" height="3.70" fill="#0d0d0d"/>
<rect x="352.50" y="465.38" width="44.30" height="3.70" fill="#d8446c"/>
<rect x="383.40" y="472.31" width="13.40" height="3.70" fill="#f3bb3b"/>
<line x1="350.30" y1="477.70" x2="400.60" y2="477.70" stroke="#8f8f8f" stroke-width="0.8"/>
<line x1="355.30" y1="477.70" x2="355.30" y2="481.10" stroke="#555" stroke-width="0.7"/>
<line x1="363.40" y1="477.70" x2="363.40" y2="481.10" stroke="#555" stroke-width="0.7"/>
<line x1="371.40" y1="477.70" x2="371.40" y2="481.10" stroke="#555" stroke-width="0.7"/>
<line x1="380.50" y1="477.70" x2="380.50" y2="481.10" stroke="#555" stroke-width="0.7"/>
<line x1="388.30" y1="477.70" x2="388.30" y2="481.10" stroke="#555" stroke-width="0.7"/>
<line x1="397.40" y1="477.70" x2="397.40" y2="481.10" stroke="#555" stroke-width="0.7"/>
<text transform="translate(366.30 489.00) rotate(-30) scale(1 1.08)" font-size="7.8" text-anchor="end" fill="#231f20">400</text>
<text transform="translate(383.40 489.00) rotate(-30) scale(1 1.08)" font-size="7.8" text-anchor="end" fill="#231f20">200</text>
<text transform="translate(400.30 489.00) rotate(-30) scale(1 1.08)" font-size="7.8" text-anchor="end" fill="#231f20">0</text>
<text transform="translate(375.30 511.00) scale(1 1.08)" font-size="8.9" text-anchor="middle" fill="#231f20">Set size</text>
<text transform="translate(406.80 284.50)" font-size="13" text-anchor="start" fill="#000" font-weight="bold">d</text>
<ellipse cx="206.6" cy="40.5" rx="23.6" ry="21.8" fill="#89bded" fill-opacity="0.5" stroke="#8a8a8a" stroke-opacity="0.6" stroke-width="0.55"/>
<ellipse cx="236.9" cy="40.5" rx="23.4" ry="21.8" fill="#dd7997" fill-opacity="0.5" stroke="#8a8a8a" stroke-opacity="0.6" stroke-width="0.55"/>
<ellipse cx="221.8" cy="68.0" rx="23.6" ry="21.8" fill="#f7cd69" fill-opacity="0.5" stroke="#8a8a8a" stroke-opacity="0.6" stroke-width="0.55"/>
<text transform="translate(197.30 44.80) scale(1 1.08)" font-size="7.0" text-anchor="middle" fill="#231f20">218</text>
<text transform="translate(221.60 39.90) scale(1 1.08)" font-size="7.0" text-anchor="middle" fill="#231f20">221</text>
<text transform="translate(245.20 44.80) scale(1 1.08)" font-size="7.0" text-anchor="middle" fill="#231f20">298</text>
<text transform="translate(222.30 52.70) scale(1 1.08)" font-size="7.0" text-anchor="middle" fill="#231f20">0</text>
<text transform="translate(209.40 59.30) scale(1 1.08)" font-size="7.0" text-anchor="middle" fill="#231f20">124</text>
<text transform="translate(233.50 59.30) scale(1 1.08)" font-size="7.0" text-anchor="middle" fill="#231f20">1</text>
<text transform="translate(220.60 77.70) scale(1 1.08)" font-size="7.0" text-anchor="middle" fill="#231f20">23</text>
<text transform="translate(162.00 32.70) scale(1 1.08)" font-size="8.8" text-anchor="middle" fill="#231f20">Nitrogen</text>
<text transform="translate(161.50 42.80) scale(1 1.08)" font-size="8.8" text-anchor="middle" fill="#231f20">(563)</text>
<text transform="translate(274.50 33.20) scale(1 1.08)" font-size="8.8" text-anchor="middle" fill="#231f20">CBB</text>
<text transform="translate(274.50 43.50) scale(1 1.08)" font-size="8.8" text-anchor="middle" fill="#231f20">(520)</text>
<text transform="translate(221.40 100.50) scale(1 1.08)" font-size="8.8" text-anchor="middle" fill="#231f20">rTCA</text>
<text transform="translate(222.20 110.00) scale(1 1.08)" font-size="8.8" text-anchor="middle" fill="#231f20">(148)</text>
<ellipse cx="575.5" cy="45.3" rx="23.4" ry="22.1" fill="#89bded" fill-opacity="0.5" stroke="#8a8a8a" stroke-opacity="0.6" stroke-width="0.55"/>
<ellipse cx="606.1" cy="45.3" rx="23.2" ry="22.1" fill="#dd7997" fill-opacity="0.5" stroke="#8a8a8a" stroke-opacity="0.6" stroke-width="0.55"/>
<ellipse cx="590.5" cy="71.8" rx="23.4" ry="22.2" fill="#f7cd69" fill-opacity="0.5" stroke="#8a8a8a" stroke-opacity="0.6" stroke-width="0.55"/>
<text transform="translate(568.90 48.50) scale(1 1.08)" font-size="7.0" text-anchor="middle" fill="#231f20">221</text>
<text transform="translate(590.30 45.10) scale(1 1.08)" font-size="7.0" text-anchor="middle" fill="#231f20">482</text>
<text transform="translate(611.30 49.40) scale(1 1.08)" font-size="7.0" text-anchor="middle" fill="#231f20">37</text>
<text transform="translate(590.70 57.90) scale(1 1.08)" font-size="7.0" text-anchor="middle" fill="#231f20">1</text>
<text transform="translate(578.50 63.90) scale(1 1.08)" font-size="7.0" text-anchor="middle" fill="#231f20">40</text>
<text transform="translate(602.10 63.90) scale(1 1.08)" font-size="7.0" text-anchor="middle" fill="#231f20">0</text>
<text transform="translate(589.20 82.10) scale(1 1.08)" font-size="7.0" text-anchor="middle" fill="#231f20">107</text>
<text transform="translate(529.80 37.90) scale(1 1.08)" font-size="8.8" text-anchor="middle" fill="#231f20">Sulfide</text>
<text transform="translate(529.60 48.10) scale(1 1.08)" font-size="8.8" text-anchor="middle" fill="#231f20">(744)</text>
<text transform="translate(643.60 38.80) scale(1 1.08)" font-size="8.8" text-anchor="middle" fill="#231f20">CBB</text>
<text transform="translate(643.80 48.80) scale(1 1.08)" font-size="8.8" text-anchor="middle" fill="#231f20">(520)</text>
<text transform="translate(589.70 104.90) scale(1 1.08)" font-size="8.8" text-anchor="middle" fill="#231f20">rTCA</text>
<text transform="translate(590.70 114.60) scale(1 1.08)" font-size="8.8" text-anchor="middle" fill="#231f20">(148)</text>
<ellipse cx="565.0" cy="291.3" rx="23.6" ry="22.0" fill="#89bded" fill-opacity="0.5" stroke="#8a8a8a" stroke-opacity="0.6" stroke-width="0.55"/>
<ellipse cx="595.2" cy="291.3" rx="23.4" ry="22.0" fill="#dd7997" fill-opacity="0.5" stroke="#8a8a8a" stroke-opacity="0.6" stroke-width="0.55"/>
<ellipse cx="580.2" cy="318.4" rx="23.6" ry="21.5" fill="#f7cd69" fill-opacity="0.5" stroke="#8a8a8a" stroke-opacity="0.6" stroke-width="0.55"/>
<text transform="translate(558.20 294.50) scale(1 1.08)" font-size="7.0" text-anchor="middle" fill="#231f20">382</text>
<text transform="translate(580.00 290.50) scale(1 1.08)" font-size="7.0" text-anchor="middle" fill="#231f20">457</text>
<text transform="translate(600.50 295.20) scale(1 1.08)" font-size="7.0" text-anchor="middle" fill="#231f20">62</text>
<text transform="translate(580.00 303.40) scale(1 1.08)" font-size="7.0" text-anchor="middle" fill="#231f20">1</text>
<text transform="translate(567.80 310.40) scale(1 1.08)" font-size="7.0" text-anchor="middle" fill="#231f20">87</text>
<text transform="translate(590.90 310.40) scale(1 1.08)" font-size="7.0" text-anchor="middle" fill="#231f20">0</text>
<text transform="translate(578.30 327.90) scale(1 1.08)" font-size="7.0" text-anchor="middle" fill="#231f20">60</text>
<text transform="translate(514.30 282.90) scale(1 1.08)" font-size="8.8" text-anchor="middle" fill="#231f20">Amino</text>
<text transform="translate(514.30 293.20) scale(1 1.08)" font-size="8.8" text-anchor="middle" fill="#231f20">acid</text>
<text transform="translate(514.30 302.50) scale(1 1.08)" font-size="8.8" text-anchor="middle" fill="#231f20">synthesis</text>
<text transform="translate(514.30 313.30) scale(1 1.08)" font-size="8.8" text-anchor="middle" fill="#231f20">(924)</text>
<text transform="translate(633.30 285.20) scale(1 1.08)" font-size="8.8" text-anchor="middle" fill="#231f20">CBB</text>
<text transform="translate(633.00 296.20) scale(1 1.08)" font-size="8.8" text-anchor="middle" fill="#231f20">(520)</text>
<text transform="translate(579.40 351.60) scale(1 1.08)" font-size="8.8" text-anchor="middle" fill="#231f20">rTCA</text>
<text transform="translate(580.50 360.80) scale(1 1.08)" font-size="8.8" text-anchor="middle" fill="#231f20">(148)</text>
<ellipse cx="237.50" cy="339.65" rx="38.45" ry="25.15" transform="rotate(-38.6 237.50 339.65)" fill="#ebaa0c" fill-opacity="0.4" stroke="#555" stroke-opacity="0.35" stroke-width="0.5"/>
<ellipse cx="223.10" cy="323.80" rx="38.2" ry="25.7" transform="rotate(-45 223.10 323.80)" fill="#c01e48" fill-opacity="0.4" stroke="#555" stroke-opacity="0.35" stroke-width="0.5"/>
<ellipse cx="206.30" cy="342.00" rx="38.7" ry="24.6" transform="rotate(41.8 206.30 342.00)" fill="#6ef5ff" fill-opacity="0.4" stroke="#555" stroke-opacity="0.35" stroke-width="0.5"/>
<ellipse cx="220.80" cy="323.05" rx="38.5" ry="25.4" transform="rotate(37.5 220.80 323.05)" fill="#6e5feb" fill-opacity="0.4" stroke="#555" stroke-opacity="0.35" stroke-width="0.5"/>
<text transform="translate(200.10 304.00) scale(1 1.08)" font-size="7.0" text-anchor="middle" fill="#231f20">115</text>
<text transform="translate(242.90 301.70) scale(1 1.08)" font-size="7.0" text-anchor="middle" fill="#231f20">222</text>
<text transform="translate(221.60 308.70) scale(1 1.08)" font-size="7.0" text-anchor="middle" fill="#231f20">0</text>
<text transform="translate(192.60 318.50) scale(1 1.08)" font-size="7.0" text-anchor="middle" fill="#231f20">92</text>
<text transform="translate(252.00 315.70) scale(1 1.08)" font-size="7.0" text-anchor="middle" fill="#231f20">0</text>
<text transform="translate(179.80 330.90) scale(1 1.08)" font-size="7.0" text-anchor="middle" fill="#231f20">126</text>
<text transform="translate(261.50 328.60) scale(1 1.08)" font-size="7.0" text-anchor="middle" fill="#231f20">18</text>
<text transform="translate(207.10 332.10) scale(1 1.08)" font-size="7.0" text-anchor="middle" fill="#231f20">0</text>
<text transform="translate(240.50 325.80) scale(1 1.08)" font-size="7.0" text-anchor="middle" fill="#231f20">0</text>
<text transform="translate(225.30 341.40) scale(1 1.08)" font-size="7.0" text-anchor="middle" fill="#231f20">0</text>
<text transform="translate(196.60 349.60) scale(1 1.08)" font-size="7.0" text-anchor="middle" fill="#231f20">297</text>
<text transform="translate(248.70 344.20) scale(1 1.08)" font-size="7.0" text-anchor="middle" fill="#231f20">6</text>
<text transform="translate(209.40 355.40) scale(1 1.08)" font-size="7.0" text-anchor="middle" fill="#231f20">1</text>
<text transform="translate(235.10 354.30) scale(1 1.08)" font-size="7.0" text-anchor="middle" fill="#231f20">69</text>
<text transform="translate(223.00 365.50) scale(1 1.08)" font-size="7.0" text-anchor="middle" fill="#231f20">54</text>
<text transform="translate(171.90 289.90) scale(1 1.08)" font-size="8.8" text-anchor="middle" fill="#231f20">Hydrogenases</text>
<text transform="translate(171.80 300.40) scale(1 1.08)" font-size="8.8" text-anchor="middle" fill="#231f20">(282)</text>
<text transform="translate(268.80 293.40) scale(1 1.08)" font-size="8.8" text-anchor="middle" fill="#231f20">CBB</text>
<text transform="translate(269.30 303.90) scale(1 1.08)" font-size="8.8" text-anchor="middle" fill="#231f20">(520)</text>
<text transform="translate(163.30 354.60) scale(1 1.08)" font-size="8.8" text-anchor="middle" fill="#231f20">ETC</text>
<text transform="translate(163.30 364.60) scale(1 1.08)" font-size="8.8" text-anchor="middle" fill="#231f20">and ATPases</text>
<text transform="translate(163.60 374.70) scale(1 1.08)" font-size="8.8" text-anchor="middle" fill="#231f20">(639)</text>
<text transform="translate(265.50 368.10) scale(1 1.08)" font-size="8.8" text-anchor="middle" fill="#231f20">rTCA</text>
<text transform="translate(265.50 377.90) scale(1 1.08)" font-size="8.8" text-anchor="middle" fill="#231f20">(148)</text>
</svg></body></html>
